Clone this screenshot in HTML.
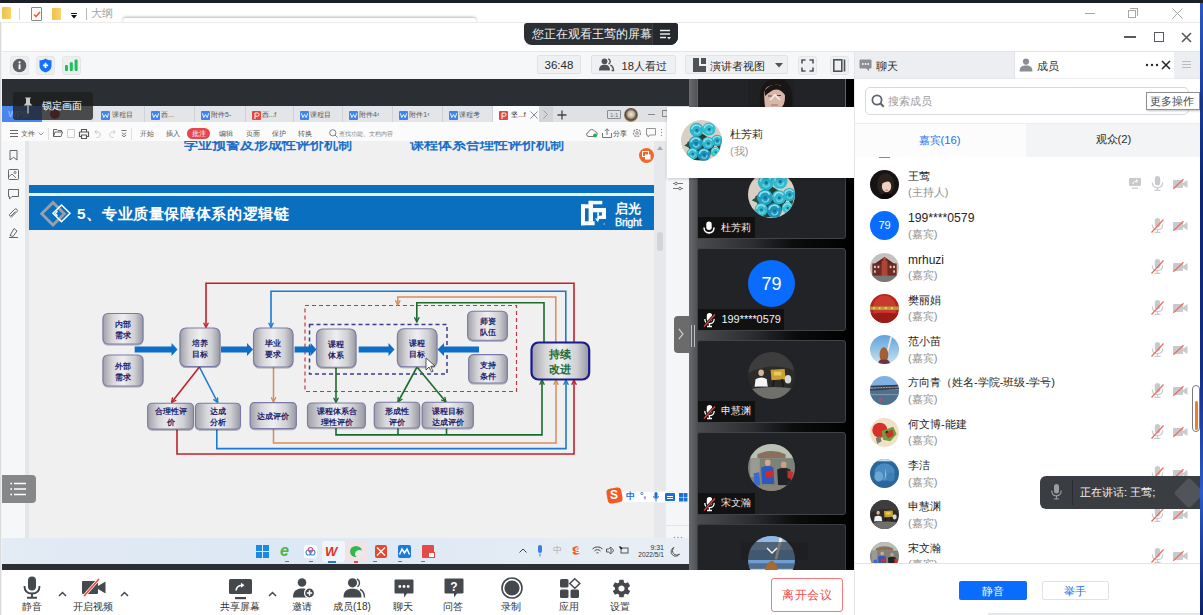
<!DOCTYPE html>
<html><head><meta charset="utf-8">
<style>
*{margin:0;padding:0;box-sizing:border-box}
html,body{width:1203px;height:615px;overflow:hidden;background:#fff;font-family:"Liberation Sans",sans-serif;position:relative}
.a{position:absolute}
.t{position:absolute;white-space:nowrap;line-height:1}
svg{overflow:visible}
</style></head><body>
<!-- ===== top dark strip + desktop edge ===== -->
<div class="a" style="left:0;top:0;width:1203px;height:3px;background:#1b1f27"></div>
<div class="a" style="left:1200px;top:3px;width:3px;height:612px;background:linear-gradient(#2a57c9,#0c2473 30%,#132c86 60%,#2a5ad0 80%,#0d1f6a)"></div>
<!-- ===== row 1 explorer strip ===== -->
<div class="a" style="left:0;top:3px;width:1200px;height:19px;background:#fff"></div>
<div class="a" style="left:2px;top:7px;width:9px;height:12px;background:linear-gradient(90deg,#f0c04a,#f7d36b);border-radius:1px"></div>
<div class="a" style="left:19px;top:8px;width:1px;height:12px;background:#d2d2d2"></div>
<div class="a" style="left:31px;top:7px;width:11px;height:14px;background:#fafafa;border:1px solid #8a8a8a;border-radius:1px"></div>
<svg class="a" style="left:33px;top:11px" width="8" height="7" viewBox="0 0 8 7"><path d="M1 3.5 L3 5.5 L7 1" stroke="#e8662a" stroke-width="1.6" fill="none"/></svg>
<div class="a" style="left:52px;top:8px;width:9px;height:12px;background:linear-gradient(90deg,#f0c04a,#f7d36b);border-radius:1px"></div>
<div class="a" style="left:71px;top:13px;width:6px;height:1px;background:#111"></div>
<svg class="a" style="left:71px;top:15px" width="6" height="4" viewBox="0 0 6 4"><path d="M0 0 L6 0 L3 3.5Z" fill="#111"/></svg>
<div class="a" style="left:86px;top:8px;width:1px;height:12px;background:#b8b8b8"></div>
<div class="t" style="left:91px;top:8px;font-size:11px;color:#a3a3a3">大纲</div>
<div class="a" style="left:123px;top:18px;width:353px;height:5px;background:#fff;border-radius:3px 3px 0 0;box-shadow:0 -1px 3px rgba(0,0,0,.3)"></div>
<div class="a" style="left:0;top:22px;width:1200px;height:1px;background:#ebebeb"></div>
<!-- row1 window controls -->
<div class="a" style="left:1085px;top:13px;width:10px;height:1px;background:#a8a8a8"></div>
<div class="a" style="left:1128px;top:10px;width:8px;height:8px;border:1px solid #a8a8a8;background:#fff"></div>
<div class="a" style="left:1130px;top:8px;width:8px;height:8px;border-top:1px solid #a8a8a8;border-right:1px solid #a8a8a8"></div>
<svg class="a" style="left:1172px;top:8px" width="11" height="11" viewBox="0 0 11 11"><path d="M0.5 0.5 L10.5 10.5 M10.5 0.5 L0.5 10.5" stroke="#a8a8a8" stroke-width="1"/></svg>

<!-- ===== title bar ===== -->
<div class="a" style="left:0;top:23px;width:1200px;height:28px;background:#fff"></div>
<div class="a" style="left:0;top:22px;width:1px;height:593px;background:#dadada"></div><div class="a" style="left:1px;top:22px;width:1px;height:593px;background:#f2f2f2"></div>
<div class="a" style="left:524px;top:23px;width:154px;height:22px;background:#2c3035;border-radius:3px 3px 8px 8px;overflow:hidden">
  <div class="a" style="left:128px;top:0;width:26px;height:22px;background:#25282c;border-left:1px solid #3c4046"></div>
</div>
<div class="t" style="left:531.5px;top:29px;font-size:11.5px;color:#eef0f2">您正在观看王莺的屏幕</div>
<svg class="a" style="left:659px;top:29px" width="13" height="11" viewBox="0 0 13 11"><path d="M1 1.5H11 M1 5H11 M1 8.5H7" stroke="#e8e8e8" stroke-width="1.4"/><path d="M8 8 L12 8 L10 10.5Z" fill="#e8e8e8"/></svg>
<!-- title window controls -->
<div class="a" style="left:1124px;top:36px;width:12px;height:2px;background:#555a60"></div>
<div class="a" style="left:1154px;top:32px;width:10px;height:10px;border:1.6px solid #555a60"></div>
<svg class="a" style="left:1181px;top:32px" width="11" height="11" viewBox="0 0 11 11"><path d="M1 1 L10 10 M10 1 L1 10" stroke="#555a60" stroke-width="1.6"/></svg>

<!-- ===== toolbar ===== -->
<div class="a" style="left:2px;top:51px;width:852px;height:28px;background:#f6f7f8;border-top:1px solid #e5e6e8"></div>
<div class="a" style="left:10px;top:56px;width:19px;height:19px;background:#eceef0;border:1px solid #e4e6e9;border-radius:3px"></div>
<div class="a" style="left:36px;top:56px;width:19px;height:19px;background:#eceef0;border:1px solid #e4e6e9;border-radius:3px"></div>
<div class="a" style="left:62px;top:56px;width:19px;height:19px;background:#eceef0;border:1px solid #e4e6e9;border-radius:3px"></div>
<svg class="a" style="left:12px;top:58px" width="15" height="15" viewBox="0 0 15 15"><circle cx="7.5" cy="7.5" r="6.8" fill="#5c5f64"/><rect x="6.6" y="6.3" width="1.9" height="5" fill="#fff"/><circle cx="7.55" cy="4.4" r="1.05" fill="#fff"/></svg>
<svg class="a" style="left:39px;top:58px" width="13" height="15" viewBox="0 0 13 15"><path d="M6.5 0.5 C8.5 2 10.5 2.3 12.5 2.3 L12.5 8 C12.5 11.5 9.5 13.5 6.5 14.5 C3.5 13.5 0.5 11.5 0.5 8 L0.5 2.3 C2.5 2.3 4.5 2 6.5 0.5Z" fill="#1570ff"/><path d="M6.5 4.8V10 M3.9 7.4H9.1" stroke="#fff" stroke-width="1.7"/></svg>
<svg class="a" style="left:64px;top:58px" width="15" height="15" viewBox="0 0 15 15"><rect x="1" y="7" width="3" height="6" rx="1" fill="#18c35a"/><rect x="5.8" y="4.3" width="3" height="8.7" rx="1" fill="#18c35a"/><rect x="10.6" y="1.5" width="3" height="11.5" rx="1" fill="#18c35a"/></svg>

<div class="a" style="left:537px;top:55px;width:44px;height:19px;background:#eef0f2;border:1px solid #e0e2e5;border-radius:2px"></div>
<div class="t" style="left:544.5px;top:59.5px;font-size:11.5px;color:#2b2b2b">36:48</div>
<div class="a" style="left:591px;top:55px;width:85px;height:19px;background:#eef0f2;border:1px solid #e0e2e5;border-radius:2px"></div>
<svg class="a" style="left:599px;top:58px" width="15" height="13" viewBox="0 0 15 13"><circle cx="5.5" cy="3.3" r="2.9" fill="#4f5358"/><path d="M0 12.5 C0 8 2.5 6.8 5.5 6.8 C8.5 6.8 11 8 11 12.5Z" fill="#4f5358"/><path d="M9.2 0.8 A2.8 2.8 0 0 1 9.6 6 M11.3 7.2 C13 7.8 14.5 9 14.5 12.5 L12.6 12.5" stroke="#4f5358" stroke-width="1.4" fill="none"/></svg>
<div class="t" style="left:621.5px;top:60.5px;font-size:11.2px;color:#2b2b2b">18人看过</div>
<div class="a" style="left:685px;top:55px;width:103px;height:19px;background:#eef0f2;border:1px solid #e0e2e5;border-radius:2px"></div>
<svg class="a" style="left:693px;top:58px" width="14" height="14" viewBox="0 0 14 14"><path d="M0 0H6V8H13V14H0Z" fill="#4f5358"/><rect x="8" y="0" width="5" height="6" fill="#4f5358"/></svg>
<div class="t" style="left:709.5px;top:60.5px;font-size:11.1px;color:#2b2b2b">演讲者视图</div>
<svg class="a" style="left:775px;top:63px" width="8" height="5" viewBox="0 0 8 5"><path d="M0 0H8L4 4.5Z" fill="#4f5358"/></svg>
<div class="a" style="left:798px;top:56px;width:19px;height:19px;background:#eef0f2;border:1px solid #e3e5e8;border-radius:3px"></div>
<svg class="a" style="left:801px;top:59px" width="13" height="13" viewBox="0 0 13 13"><path d="M1 4.5V1H4.5 M8.5 1H12V4.5 M12 8.5V12H8.5 M4.5 12H1V8.5" stroke="#4f5358" stroke-width="1.6" fill="none"/></svg>
<div class="a" style="left:830px;top:56px;width:19px;height:19px;background:#eef0f2;border:1px solid #e3e5e8;border-radius:3px"></div>
<svg class="a" style="left:833px;top:59px" width="13" height="13" viewBox="0 0 13 13"><rect x="0.8" y="0.8" width="8" height="11.4" stroke="#4f5358" stroke-width="1.6" fill="none"/><path d="M11.5 0.5V12.5" stroke="#4f5358" stroke-width="1.6"/></svg>

<!-- ===== main dark ===== -->
<div class="a" style="left:2px;top:79px;width:852px;height:491px;background:#2b2e32"></div>
<!-- video strip -->
<div class="a" style="left:689px;top:79px;width:8px;height:491px;background:linear-gradient(90deg,#686a6e,#505256)"></div>
<div class="a" style="left:697px;top:79px;width:157px;height:491px;background:linear-gradient(90deg,#4a4c50 0,#2c2d30 35%,#0c0c0d 62%,#000 100%)"></div>
<!-- splitter lines -->
<div class="a" style="left:691px;top:325px;width:1px;height:22px;background:#b9bcc0"></div>
<div class="a" style="left:694px;top:325px;width:1px;height:22px;background:#b9bcc0"></div>
<!-- tiles -->
<div class="a" style="left:697px;top:64px;width:149px;height:83px;background:#222326;border:1.5px solid #1d8c4c;border-top:none;clip-path:inset(15px 0 0 0)"></div>
<div class="a" style="left:697px;top:156px;width:149px;height:83px;background:#222326;border:1px solid #414347;border-radius:3px"></div>
<div class="a" style="left:697px;top:248px;width:149px;height:83px;background:#222326;border:1px solid #414347;border-radius:3px"></div>
<div class="a" style="left:697px;top:340px;width:149px;height:83px;background:#222326;border:1px solid #414347;border-radius:3px"></div>
<div class="a" style="left:697px;top:432px;width:149px;height:83px;background:#222326;border:1px solid #414347;border-radius:3px"></div>
<div class="a" style="left:697px;top:524px;width:149px;height:46px;background:#222326;border:1px solid #3a3c40;border-bottom:none;border-radius:3px 3px 0 0"></div>
<!-- tile 0: host video -->
<svg class="a" style="left:740px;top:79px;overflow:hidden" width="70" height="28" viewBox="740 79 70 28"><rect x="740" y="79" width="70" height="28" fill="#222326"/><rect x="748" y="79" width="46" height="28" fill="#1f2022"/><path d="M760 107 Q758 84 770 80 Q778 77 786 81 Q794 88 792 107Z" fill="#1a1616"/><path d="M765 107 Q763 92 766 88 Q772 84 780 85 Q785 88 785 96 Q785 104 782 107Z" fill="#d8b6a8"/><path d="M765 90 Q772 82 782 86 Q786 90 785 95 Q778 86 770 92 Q767 94 765 96Z" fill="#1a1616"/><path d="M768 96 H772 M777 95.5 H781" stroke="#5a4440" stroke-width="1"/><path d="M771 105 H778" stroke="#b07a78" stroke-width="1.2"/></svg>
<svg class="a" style="left:769px;top:93px" width="12" height="8" viewBox="0 0 12 8"><path d="M1 7L6 2L11 7" stroke="#f2efe8" stroke-width="1.6" fill="none"/></svg>
<!-- tile avatars -->
<div class="a" style="left:748px;top:260px;width:47px;height:47px;border-radius:50%;background:#0a6cff"></div>
<div class="t" style="left:748px;top:275px;width:47px;text-align:center;font-size:18px;color:#fff">79</div>
<!-- name labels -->
<div class="a" style="left:698px;top:217px;width:57px;height:21px;background:#111112"></div>
<svg class="a" style="left:703px;top:220.5px" width="12" height="14" viewBox="0 0 12 14"><rect x="3.3" y="0.5" width="5.4" height="8.5" rx="2.7" fill="#fff"/><path d="M1 6.5C1 10 3.2 11.8 6 11.8C8.8 11.8 11 10 11 6.5" stroke="#fff" stroke-width="1.5" fill="none"/><path d="M4.8 11.6L6 13.3L7.2 11.6Z" fill="#fff"/></svg>
<div class="t" style="left:720.5px;top:223px;font-size:10.2px;color:#f2f2f2">杜芳莉</div>
<div class="a" style="left:698px;top:309px;width:86px;height:21px;background:#111112"></div>
<div class="t" style="left:721.5px;top:313.5px;font-size:10.9px;color:#f2f2f2">199****0579</div>
<div class="a" style="left:698px;top:401px;width:57px;height:21px;background:#111112"></div>
<div class="t" style="left:720.5px;top:406px;font-size:10.2px;color:#f2f2f2">申慧渊</div>
<div class="a" style="left:698px;top:493px;width:57px;height:21px;background:#111112"></div>
<div class="t" style="left:720.5px;top:498px;font-size:10.2px;color:#f2f2f2">宋文瀚</div>

<svg class="a" style="left:703px;top:313px" width="13" height="14" viewBox="0 0 13 14"><rect x="3.8" y="0" width="5.4" height="8.5" rx="2.7" fill="#fff"/><path d="M1.8 6C1.8 9 3.8 10.6 6.5 10.6C9.2 10.6 11.2 9 11.2 6" stroke="#fff" stroke-width="1.3" fill="none"/><path d="M6.5 10.6V13.5M4 13.5H9" stroke="#fff" stroke-width="1.3"/><path d="M1 13.5L12 1.5" stroke="#111112" stroke-width="2.6"/><path d="M1 13.5L12 1.5" stroke="#f0473c" stroke-width="1.2"/></svg>
<svg class="a" style="left:703px;top:405px" width="13" height="14" viewBox="0 0 13 14"><rect x="3.8" y="0" width="5.4" height="8.5" rx="2.7" fill="#fff"/><path d="M1.8 6C1.8 9 3.8 10.6 6.5 10.6C9.2 10.6 11.2 9 11.2 6" stroke="#fff" stroke-width="1.3" fill="none"/><path d="M6.5 10.6V13.5M4 13.5H9" stroke="#fff" stroke-width="1.3"/><path d="M1 13.5L12 1.5" stroke="#111112" stroke-width="2.6"/><path d="M1 13.5L12 1.5" stroke="#f0473c" stroke-width="1.2"/></svg>
<svg class="a" style="left:703px;top:497px" width="13" height="14" viewBox="0 0 13 14"><rect x="3.8" y="0" width="5.4" height="8.5" rx="2.7" fill="#fff"/><path d="M1.8 6C1.8 9 3.8 10.6 6.5 10.6C9.2 10.6 11.2 9 11.2 6" stroke="#fff" stroke-width="1.3" fill="none"/><path d="M6.5 10.6V13.5M4 13.5H9" stroke="#fff" stroke-width="1.3"/><path d="M1 13.5L12 1.5" stroke="#111112" stroke-width="2.6"/><path d="M1 13.5L12 1.5" stroke="#f0473c" stroke-width="1.2"/></svg>
<svg class="a" style="left:748px;top:171px" width="47" height="47" viewBox="0 0 100 100"><defs><clipPath id="ct1"><circle cx="50" cy="50" r="50"/></clipPath></defs><g clip-path="url(#ct1)"><rect width="100" height="100" fill="#d9cfc4"/>
<path d="M15 55 L50 32 L85 55 L65 98 L30 98Z" fill="#1c4232"/>
<path d="M8 62 L26 50 L28 72Z M86 62 L98 55 L94 74Z" fill="#25533e"/>
<circle cx="38" cy="24" r="17" fill="#2cb4cb"/><path d="M26.1 22.3 A11.9 11.9 0 0 1 48.2 18.1" stroke="#8fe3ec" stroke-width="3.7" fill="none"/><path d="M32.0 28.2 A6.8 6.8 0 0 0 45.6 25.7" stroke="#6fd2e0" stroke-width="3.1" fill="none"/><circle cx="38.9" cy="24.9" r="3.7" fill="#137896"/><circle cx="68" cy="22" r="16" fill="#33bccf"/><path d="M56.8 20.4 A11.2 11.2 0 0 1 77.6 16.4" stroke="#8fe3ec" stroke-width="3.5" fill="none"/><path d="M62.4 26.0 A6.4 6.4 0 0 0 75.2 23.6" stroke="#6fd2e0" stroke-width="2.9" fill="none"/><circle cx="68.8" cy="22.8" r="3.5" fill="#137896"/><circle cx="88" cy="50" r="14" fill="#2aaac6"/><path d="M78.2 48.6 A9.8 9.8 0 0 1 96.4 45.1" stroke="#8fe3ec" stroke-width="3.1" fill="none"/><path d="M83.1 53.5 A5.6 5.6 0 0 0 94.3 51.4" stroke="#6fd2e0" stroke-width="2.5" fill="none"/><circle cx="88.7" cy="50.7" r="3.1" fill="#137896"/><circle cx="36" cy="56" r="17" fill="#1f9cc2"/><path d="M24.1 54.3 A11.9 11.9 0 0 1 46.2 50.0" stroke="#8fe3ec" stroke-width="3.7" fill="none"/><path d="M30.1 60.2 A6.8 6.8 0 0 0 43.6 57.7" stroke="#6fd2e0" stroke-width="3.1" fill="none"/><circle cx="36.9" cy="56.9" r="3.7" fill="#137896"/><circle cx="66" cy="56" r="15" fill="#2fb6cc"/><path d="M55.5 54.5 A10.5 10.5 0 0 1 75.0 50.8" stroke="#8fe3ec" stroke-width="3.3" fill="none"/><path d="M60.8 59.8 A6.0 6.0 0 0 0 72.8 57.5" stroke="#6fd2e0" stroke-width="2.7" fill="none"/><circle cx="66.8" cy="56.8" r="3.3" fill="#137896"/><circle cx="28" cy="82" r="14" fill="#33b8cc"/><path d="M18.2 80.6 A9.8 9.8 0 0 1 36.4 77.1" stroke="#8fe3ec" stroke-width="3.1" fill="none"/><path d="M23.1 85.5 A5.6 5.6 0 0 0 34.3 83.4" stroke="#6fd2e0" stroke-width="2.5" fill="none"/><circle cx="28.7" cy="82.7" r="3.1" fill="#137896"/><circle cx="56" cy="84" r="16" fill="#2092bb"/><path d="M44.8 82.4 A11.2 11.2 0 0 1 65.6 78.4" stroke="#8fe3ec" stroke-width="3.5" fill="none"/><path d="M50.4 88.0 A6.4 6.4 0 0 0 63.2 85.6" stroke="#6fd2e0" stroke-width="2.9" fill="none"/><circle cx="56.8" cy="84.8" r="3.5" fill="#137896"/><circle cx="84" cy="78" r="12" fill="#3ac3d3"/><path d="M75.6 76.8 A8.4 8.4 0 0 1 91.2 73.8" stroke="#8fe3ec" stroke-width="2.6" fill="none"/><path d="M79.8 81.0 A4.8 4.8 0 0 0 89.4 79.2" stroke="#6fd2e0" stroke-width="2.2" fill="none"/><circle cx="84.6" cy="78.6" r="2.6" fill="#137896"/></g></svg>
<svg class="a" style="left:748px;top:352px" width="47" height="47" viewBox="0 0 100 100"><defs><clipPath id="ct3"><circle cx="50" cy="50" r="50"/></clipPath></defs><g clip-path="url(#ct3)"><rect width="100" height="100" fill="#2c2b2a"/>
<path d="M0 0 H100 V40 Q50 20 0 45Z" fill="#3d3d3e"/>
<path d="M48 38 L78 36 L80 58 L50 60Z" fill="#c9a12e"/>
<rect x="55" y="42" width="16" height="8" fill="#e8cc5a"/>
<path d="M55 60 L52 80 M72 58 L76 80" stroke="#1a1a1a" stroke-width="4"/>
<ellipse cx="28" cy="44" rx="6" ry="7" fill="#d8b49a"/>
<path d="M16 58 Q28 50 40 58 L42 74 L14 74Z" fill="#f4f4f4"/>
<path d="M18 74 L40 74 L44 90 L16 90Z" fill="#2a2a30"/>
<path d="M0 80 Q50 70 100 78 V100 H0Z" fill="#6f6f6c"/>
<ellipse cx="85" cy="58" rx="7" ry="9" fill="#d8d8d8"/></g></svg>
<svg class="a" style="left:748px;top:444px" width="47" height="47" viewBox="0 0 100 100"><defs><clipPath id="ct4"><circle cx="50" cy="50" r="50"/></clipPath></defs><g clip-path="url(#ct4)"><rect width="100" height="100" fill="#7d8278"/>
<rect x="0" y="0" width="100" height="30" fill="#b9c0b4"/>
<path d="M20 22 Q50 8 80 22 L80 30 L20 30Z" fill="#8a6e5e"/>
<rect x="5" y="30" width="20" height="40" fill="#9a9a92"/>
<ellipse cx="42" cy="40" rx="6" ry="7" fill="#d4a888"/>
<path d="M28 50 Q42 44 54 50 L56 85 L30 85Z" fill="#2a5ac0"/>
<path d="M38 58 L54 56 L52 70 L36 70Z" fill="#d02a2a"/>
<ellipse cx="76" cy="44" rx="6" ry="7" fill="#c9a088"/>
<path d="M62 54 Q76 48 90 54 L92 88 L64 88Z" fill="#222226"/>
<path d="M84 56 L96 60 L94 76 L84 72Z" fill="#c33030"/>
<path d="M12 62 L24 60 L26 95 L14 95Z" fill="#3a6ad0"/>
<rect x="0" y="88" width="100" height="12" fill="#8a857a"/></g></svg>
<div class="a" style="left:748px;top:536px;width:47px;height:34px;overflow:hidden"><svg style="position:absolute;left:0;top:0" width="47" height="47" viewBox="0 0 100 100"><defs><clipPath id="ct5"><circle cx="50" cy="50" r="50"/></clipPath></defs><g clip-path="url(#ct5)"><rect width="100" height="100" fill="#6f9fd2"/>
<rect x="0" y="0" width="100" height="30" fill="#8fb8e4"/>
<rect x="0" y="58" width="100" height="14" fill="#4e6f92"/>
<rect x="0" y="70" width="100" height="30" fill="#a9d6e2"/>
<path d="M68 0 L74 2 L62 50 L57 49Z" fill="#f4ead0"/>
<path d="M35 100 Q32 60 50 52 Q66 56 66 100Z" fill="#a8692e"/>
<ellipse cx="46" cy="96" rx="10" ry="6" fill="#f0ece4"/></g></svg></div>
<div class="a" style="left:741px;top:542px;width:67px;height:18px;background:rgba(30,30,30,.55);border-radius:3px"></div>
<svg class="a" style="left:766px;top:547px" width="12" height="8" viewBox="0 0 12 8"><path d="M1 1L6 6L11 1" stroke="#f2f2f2" stroke-width="1.5" fill="none"/></svg>
<!-- ===== WPS shared screen ===== -->
<div class="a" style="left:2px;top:106px;width:687px;height:458px;background:#f0f0f0;overflow:hidden">
</div>
<!-- tab bar -->
<div class="a" style="left:2px;top:106px;width:687px;height:16px;background:#dfe1e5"></div>
<div class="a" style="left:2px;top:106px;width:40px;height:16px;background:#4a86ee"></div>
<div class="t" style="left:8px;top:110px;font-size:9px;color:#a9c4f5">WPS</div>
<div class="a" style="left:42px;top:106px;width:48px;height:16px;background:#e4e6ea"></div>
<div class="a" style="left:50px;top:109px;width:10px;height:10px;border-radius:50%;background:#c92b2b"></div>

<div class="a" style="left:95px;top:106px;width:50px;height:16px;background:#e3e5e9;border-right:1px solid #d0d2d6"></div>
<div class="a" style="left:101px;top:110.5px;width:9px;height:9px;background:#3d86f0;border-radius:1px"></div>
<svg class="a" style="left:102px;top:112.5px" width="7" height="5" viewBox="0 0 7 5"><path d="M0.3 0.3L1.8 4.5L3.5 1.5L5.2 4.5L6.7 0.3" stroke="#fff" stroke-width="0.9" fill="none"/></svg>
<div class="t" style="left:112px;top:111px;font-size:7px;color:#5a5c60">课程目</div>
<div class="a" style="left:145px;top:106px;width:50px;height:16px;background:#e3e5e9;border-right:1px solid #d0d2d6"></div>
<div class="a" style="left:151px;top:110.5px;width:9px;height:9px;background:#3d86f0;border-radius:1px"></div>
<svg class="a" style="left:152px;top:112.5px" width="7" height="5" viewBox="0 0 7 5"><path d="M0.3 0.3L1.8 4.5L3.5 1.5L5.2 4.5L6.7 0.3" stroke="#fff" stroke-width="0.9" fill="none"/></svg>
<div class="t" style="left:161px;top:111px;font-size:7px;color:#5a5c60">西...</div>
<div class="a" style="left:195px;top:106px;width:50.5px;height:16px;background:#e3e5e9;border-right:1px solid #d0d2d6"></div>
<div class="a" style="left:201px;top:110.5px;width:9px;height:9px;background:#3d86f0;border-radius:1px"></div>
<svg class="a" style="left:202px;top:112.5px" width="7" height="5" viewBox="0 0 7 5"><path d="M0.3 0.3L1.8 4.5L3.5 1.5L5.2 4.5L6.7 0.3" stroke="#fff" stroke-width="0.9" fill="none"/></svg>
<div class="t" style="left:211px;top:111px;font-size:7px;color:#5a5c60">附件5-</div>
<div class="a" style="left:245.5px;top:106px;width:48.2px;height:16px;background:#e3e5e9;border-right:1px solid #d0d2d6"></div>
<div class="a" style="left:251.5px;top:110.5px;width:9px;height:9px;background:#e5483f;border-radius:1px"></div>
<svg class="a" style="left:253.5px;top:111.5px" width="6" height="7" viewBox="0 0 6 7"><path d="M1 7V1H3.5A1.6 1.6 0 0 1 3.5 4.2H1" stroke="#fff" stroke-width="1" fill="none"/></svg>
<div class="t" style="left:261.5px;top:111px;font-size:7px;color:#5a5c60">西...f</div>
<div class="a" style="left:293.7px;top:106px;width:49.3px;height:16px;background:#e3e5e9;border-right:1px solid #d0d2d6"></div>
<div class="a" style="left:299.7px;top:110.5px;width:9px;height:9px;background:#3d86f0;border-radius:1px"></div>
<svg class="a" style="left:300.7px;top:112.5px" width="7" height="5" viewBox="0 0 7 5"><path d="M0.3 0.3L1.8 4.5L3.5 1.5L5.2 4.5L6.7 0.3" stroke="#fff" stroke-width="0.9" fill="none"/></svg>
<div class="t" style="left:309.7px;top:111px;font-size:7px;color:#5a5c60">课程目</div>
<div class="a" style="left:343px;top:106px;width:50.3px;height:16px;background:#e3e5e9;border-right:1px solid #d0d2d6"></div>
<div class="a" style="left:349px;top:110.5px;width:9px;height:9px;background:#3d86f0;border-radius:1px"></div>
<svg class="a" style="left:350px;top:112.5px" width="7" height="5" viewBox="0 0 7 5"><path d="M0.3 0.3L1.8 4.5L3.5 1.5L5.2 4.5L6.7 0.3" stroke="#fff" stroke-width="0.9" fill="none"/></svg>
<div class="t" style="left:359px;top:111px;font-size:7px;color:#5a5c60">附件4‹</div>
<div class="a" style="left:393.3px;top:106px;width:49.4px;height:16px;background:#e3e5e9;border-right:1px solid #d0d2d6"></div>
<div class="a" style="left:399.3px;top:110.5px;width:9px;height:9px;background:#3d86f0;border-radius:1px"></div>
<svg class="a" style="left:400.3px;top:112.5px" width="7" height="5" viewBox="0 0 7 5"><path d="M0.3 0.3L1.8 4.5L3.5 1.5L5.2 4.5L6.7 0.3" stroke="#fff" stroke-width="0.9" fill="none"/></svg>
<div class="t" style="left:409.3px;top:111px;font-size:7px;color:#5a5c60">附件1‹</div>
<div class="a" style="left:442.7px;top:106px;width:50.3px;height:16px;background:#e3e5e9;border-right:1px solid #d0d2d6"></div>
<div class="a" style="left:448.7px;top:110.5px;width:9px;height:9px;background:#3d86f0;border-radius:1px"></div>
<svg class="a" style="left:449.7px;top:112.5px" width="7" height="5" viewBox="0 0 7 5"><path d="M0.3 0.3L1.8 4.5L3.5 1.5L5.2 4.5L6.7 0.3" stroke="#fff" stroke-width="0.9" fill="none"/></svg>
<div class="t" style="left:458.7px;top:111px;font-size:7px;color:#5a5c60">课程考</div>
<div class="a" style="left:493px;top:106px;width:46px;height:16px;background:#fafbfc"></div>
<div class="a" style="left:499px;top:110.5px;width:9px;height:9px;background:#e5483f;border-radius:1px"></div>
<svg class="a" style="left:501px;top:111.5px" width="6" height="7" viewBox="0 0 6 7"><path d="M1 7V1H3.5A1.6 1.6 0 0 1 3.5 4.2H1" stroke="#fff" stroke-width="1" fill="none"/></svg>
<div class="t" style="left:511px;top:111px;font-size:7px;color:#333">坚...f</div>
<svg class="a" style="left:530px;top:111px" width="8" height="8" viewBox="0 0 8 8"><path d="M0.5 0.5L7.5 7.5M7.5 0.5L0.5 7.5" stroke="#8a8c90" stroke-width="1"/></svg>
<div class="a" style="left:539px;top:106px;width:14px;height:16px;background:#d3d5d9"></div>
<svg class="a" style="left:543px;top:110px" width="5" height="9" viewBox="0 0 5 9"><path d="M0.5 0.5L4.5 4.5L0.5 8.5" stroke="#9a9ca0" stroke-width="1" fill="none"/></svg>
<svg class="a" style="left:557px;top:110px" width="10" height="10" viewBox="0 0 10 10"><path d="M5 0.5V9.5M0.5 5H9.5" stroke="#444" stroke-width="1.3"/></svg>
<div class="a" style="left:607px;top:110px;width:14px;height:9px;border:1px solid #8a8c90;border-radius:1px"></div>
<div class="t" style="left:610px;top:111.5px;font-size:6px;color:#777">1:1</div>
<div class="a" style="left:624px;top:107.5px;width:14px;height:14px;border-radius:50%;background:radial-gradient(circle at 50% 45%,#f2e6da 0,#c9b59e 30%,#4a4540 55%,#d9a857 75%)"></div>
<div class="a" style="left:648px;top:114px;width:7px;height:1px;background:#888"></div>
<div class="a" style="left:662px;top:110px;width:6px;height:7px;border:1px solid #888"></div>
<!-- wps toolbar -->
<div class="a" style="left:2px;top:122px;width:687px;height:20px;background:#fbfbfc;border-bottom:1px solid #ebebed"></div>
<svg class="a" style="left:10px;top:129.5px" width="8" height="7" viewBox="0 0 8 7"><path d="M0 0.5H8M0 3.5H8M0 6.5H8" stroke="#666" stroke-width="1"/></svg>
<div class="t" style="left:21px;top:130.5px;font-size:6.8px;color:#555">文件</div>
<svg class="a" style="left:38px;top:131.5px" width="6" height="4" viewBox="0 0 6 4"><path d="M0.5 0.5L3 3L5.5 0.5" stroke="#888" stroke-width="0.9" fill="none"/></svg>
<div class="a" style="left:48px;top:127.5px;width:1px;height:12px;background:#e0e0e0"></div>
<svg class="a" style="left:53px;top:128.5px" width="10" height="8" viewBox="0 0 10 8"><path d="M0.5 7.5V0.5H4L5 1.5H8.5V3 M0.5 7.5L2 3H9.5L8 7.5Z" stroke="#555" stroke-width="0.9" fill="none"/></svg>
<div class="a" style="left:67px;top:128.5px;width:8px;height:9px;border:1px solid #ccc;border-radius:1px"></div>
<svg class="a" style="left:79px;top:128.5px" width="10" height="10" viewBox="0 0 10 10"><path d="M2.5 3V0.5H7.5V3 M0.5 3H9.5V7.5H7.5 M2.5 7.5H0.5V3 M2.5 6H7.5V9.5H2.5Z" stroke="#555" stroke-width="1.1" fill="none"/></svg>
<svg class="a" style="left:94px;top:129px" width="8" height="9" viewBox="0 0 8 9"><path d="M2.5 1L0.8 3L2.8 4.8 M1 3H4.5A3 3 0 0 1 4.5 8.5H2.5" stroke="#c2c2c2" stroke-width="0.9" fill="none"/></svg>
<svg class="a" style="left:108px;top:129px" width="8" height="9" viewBox="0 0 8 9"><path d="M5.5 1L7.2 3L5.2 4.8 M7 3H3.5A3 3 0 0 0 3.5 8.5H5.5" stroke="#cacaca" stroke-width="0.9" fill="none"/></svg>
<svg class="a" style="left:121px;top:130px" width="6" height="7" viewBox="0 0 6 7"><path d="M0.5 0.5H5.5 M0.8 2.5L3 4.5L5.2 2.5 M0.8 5L3 6.8L5.2 5" stroke="#666" stroke-width="0.9" fill="none"/></svg>
<div class="a" style="left:131px;top:127.5px;width:1px;height:12px;background:#e0e0e0"></div>
<div class="t" style="left:140px;top:130.5px;font-size:6.8px;color:#555">开始</div>
<div class="t" style="left:166px;top:130.5px;font-size:6.8px;color:#555">插入</div>
<div class="a" style="left:187px;top:127.5px;width:23px;height:11px;background:#e5474b;border-radius:6px"></div>
<div class="t" style="left:192px;top:130.5px;font-size:6.8px;color:#fff">批注</div>
<div class="t" style="left:219px;top:130.5px;font-size:6.8px;color:#555">编辑</div>
<div class="t" style="left:246px;top:130.5px;font-size:6.8px;color:#555">页面</div>
<div class="t" style="left:272px;top:130.5px;font-size:6.8px;color:#555">保护</div>
<div class="t" style="left:298px;top:130.5px;font-size:6.8px;color:#555">转换</div>
<svg class="a" style="left:329px;top:128.5px" width="9" height="9" viewBox="0 0 9 9"><circle cx="3.8" cy="3.8" r="3.1" stroke="#777" stroke-width="0.9" fill="none"/><path d="M6 6L8.6 8.6" stroke="#777" stroke-width="0.9"/></svg>
<div class="t" style="left:339px;top:130.5px;font-size:6.4px;color:#888">查找功能、文档内容</div>
<svg class="a" style="left:586px;top:127.5px" width="12" height="10" viewBox="0 0 12 10"><path d="M3 8.5H8.5A2.5 2.5 0 0 0 8.8 3.5A3.3 3.3 0 0 0 2.5 4.3A2.1 2.1 0 0 0 3 8.5Z" stroke="#666" stroke-width="0.9" fill="none"/><circle cx="9" cy="7.5" r="2" fill="#22b14c"/></svg>
<svg class="a" style="left:602px;top:127.5px" width="10" height="10" viewBox="0 0 10 10"><path d="M0.5 5V9.5H9.5V5 M5 7V0.8 M2.8 3L5 0.8L7.2 3" stroke="#666" stroke-width="0.9" fill="none"/></svg>
<div class="t" style="left:613px;top:130.5px;font-size:6.7px;color:#555">分享</div>
<svg class="a" style="left:632px;top:127.5px" width="10" height="10" viewBox="0 0 10 10"><circle cx="5" cy="5" r="3.5" stroke="#888" stroke-width="1.2" fill="none" stroke-dasharray="2 1"/><circle cx="5" cy="5" r="1.3" stroke="#888" stroke-width="0.9" fill="none"/></svg>
<svg class="a" style="left:646px;top:127.5px" width="10" height="10" viewBox="0 0 10 10"><path d="M0.5 0.5H9.5V7H4L2 9V7H0.5Z" stroke="#888" stroke-width="0.9" fill="none"/></svg>
<div class="a" style="left:661px;top:128.5px;width:1px;height:1px;background:#888;box-shadow:0 3px #888,0 6px #888"></div>
<!-- left sidebar -->
<div class="a" style="left:2px;top:141px;width:23px;height:397px;background:#f6f7f9"></div>
<div class="a" style="left:25px;top:141px;width:4px;height:397px;background:#e4e5e8"></div>
<svg class="a" style="left:9px;top:150px" width="9" height="11" viewBox="0 0 9 11"><path d="M1 0.5H8V10L4.5 7.3L1 10Z" stroke="#555" stroke-width="0.9" fill="none"/></svg>
<svg class="a" style="left:8px;top:169px" width="11" height="11" viewBox="0 0 11 11"><rect x="0.5" y="0.5" width="10" height="10" rx="1" stroke="#555" stroke-width="0.9" fill="none"/><path d="M0.5 8L4 5L8 9 M7 2.5A1 1 0 1 0 7 4.5A1 1 0 1 0 7 2.5" stroke="#555" stroke-width="0.8" fill="none"/></svg>
<svg class="a" style="left:8px;top:189px" width="11" height="11" viewBox="0 0 11 11"><path d="M0.5 0.5H10.5V7.5H4L1.5 10V7.5H0.5Z" stroke="#555" stroke-width="0.9" fill="none"/></svg>
<svg class="a" style="left:8px;top:208px" width="11" height="10" viewBox="0 0 11 10"><path d="M3 9.5L9 3.5A1.6 1.6 0 0 0 6.8 1.2L1.5 6.5A1.1 1.1 0 0 0 3 8L7.5 3.5" stroke="#555" stroke-width="0.9" fill="none"/></svg>
<svg class="a" style="left:8px;top:227px" width="11" height="11" viewBox="0 0 11 11"><path d="M1 10.5H10 M2 8.5L6 1.5L9 4L5 9.5Z" stroke="#555" stroke-width="0.9" fill="none"/></svg>
<!-- scrollbar + right panel -->
<div class="a" style="left:654px;top:141px;width:12px;height:397px;background:#e7e8eb"></div>
<svg class="a" style="left:657px;top:146px" width="6" height="4" viewBox="0 0 6 4"><path d="M0 4L3 0L6 4Z" fill="#aaa"/></svg>
<div class="a" style="left:657px;top:232px;width:6px;height:19px;background:#d3d4d7;border-radius:3px"></div>
<div class="a" style="left:666px;top:141px;width:23px;height:397px;background:#f5f6f8"></div>
<div class="a" style="left:666px;top:525px;width:23px;height:1px;background:#e3e4e7"></div>
<svg class="a" style="left:673px;top:536px" width="10" height="3" viewBox="0 0 10 3"><circle cx="1.5" cy="1.5" r="0.8" fill="#999"/><circle cx="5" cy="1.5" r="0.8" fill="#999"/><circle cx="8.5" cy="1.5" r="0.8" fill="#999"/></svg>
<svg class="a" style="left:672px;top:180px" width="12" height="12" viewBox="0 0 12 12"><path d="M1 3.5H11 M1 8.5H11" stroke="#666" stroke-width="0.9"/><circle cx="4" cy="3.5" r="1.3" fill="#f5f6f8" stroke="#666" stroke-width="0.9"/><circle cx="8" cy="8.5" r="1.3" fill="#f5f6f8" stroke="#666" stroke-width="0.9"/></svg>
<!-- expander -->
<div class="a" style="left:674px;top:316px;width:15px;height:37px;background:#6b6b6b;border-radius:4px 0 0 4px"></div>
<svg class="a" style="left:678px;top:328px" width="6" height="12" viewBox="0 0 6 12"><path d="M0.8 0.8L5 6L0.8 11.2" stroke="#c9c9c9" stroke-width="1.2" fill="none"/></svg>

<!-- slide -->
<div class="a" style="left:29px;top:141px;width:625px;height:397px;background:#f0f0f0;overflow:hidden">
  <div class="t" style="left:155px;top:-3px;font-size:13.9px;font-weight:bold;color:#1a6fc9">学业预警及形成性评价机制</div>
  <div class="t" style="left:381px;top:-3px;font-size:13.9px;font-weight:bold;color:#1a6fc9">课程体系合理性评价机制</div>
  <div class="a" style="left:0;top:44px;width:625px;height:8px;background:#0b6fc0"></div>
  <div class="a" style="left:0;top:55px;width:625px;height:34px;background:#0b6fc0"></div>
  <div class="t" style="left:48px;top:65px;letter-spacing:0.65px;font-size:15.4px;font-weight:bold;color:#fff">5、专业质量保障体系的逻辑链</div>
</div>
<svg class="a" style="left:36px;top:198px" width="40" height="32" viewBox="36 198 40 32"><path d="M53 202.5 L64.3 213.7 L53 225 L41.7 213.7Z" stroke="#9aa0a8" stroke-width="2.8" fill="none"/><path d="M61.5 205 L70 213.3 L61.5 221.6 L53 213.3Z" stroke="#fff" stroke-width="1.5" fill="none"/><path d="M57.5 211 L55.3 213.5 L57.5 216" stroke="#fff" stroke-width="1.2" fill="none"/></svg>
<svg class="a" style="left:575px;top:195px" width="80" height="37" viewBox="0 0 1203 556"><g fill="#fff"><rect x="90" y="140" width="60" height="315"/><rect x="90" y="395" width="205" height="60"/><rect x="90" y="140" width="135" height="60"/><rect x="205" y="88" width="205" height="52"/><rect x="205" y="88" width="65" height="312"/><rect x="270" y="195" width="195" height="65"/><rect x="405" y="195" width="60" height="165"/><rect x="335" y="310" width="130" height="50"/><rect x="335" y="260" width="25" height="50"/><path d="M300 355 L365 355 L345 410Z"/></g><circle cx="440" cy="435" r="12" fill="#9ec4ea"/></svg>
<div class="t" style="left:614.5px;top:202px;font-size:13.2px;font-weight:bold;color:#fff">启光</div>
<div class="t" style="left:615px;top:216.5px;font-size:10.8px;letter-spacing:-0.3px;-webkit-text-stroke:0.3px #fff;color:#fff">Bright</div>
<div class="a" style="left:639px;top:148px;width:15px;height:15px;border-radius:50%;background:#f0692a"></div>
<svg class="a" style="left:642px;top:151px" width="9" height="9" viewBox="0 0 9 9"><rect x="0.5" y="0.5" width="6" height="5" stroke="#fff" stroke-width="1" fill="none"/><rect x="3" y="3.5" width="5.5" height="5" fill="#fff"/></svg>

<svg class="a" style="left:29px;top:141px" width="625" height="397" viewBox="29 141 625 397">
<defs><filter id="sh" x="-20%" y="-20%" width="140%" height="150%"><feDropShadow dx="0" dy="1" stdDeviation="0.7" flood-color="#000" flood-opacity="0.3"/></filter>
<linearGradient id="g" x1="0" y1="0" x2="1" y2="0"><stop offset="0" stop-color="#a0a0a8"/><stop offset="0.25" stop-color="#d8d8dc"/><stop offset="0.5" stop-color="#efeff1"/><stop offset="0.78" stop-color="#d0d0d5"/><stop offset="1" stop-color="#9898a2"/></linearGradient>
<marker id="mr" viewBox="0 0 10 10" refX="9" refY="5" markerWidth="6" markerHeight="6" markerUnits="userSpaceOnUse" orient="auto"><path d="M1 1L9 5L1 9" stroke="#c0222a" stroke-width="2.2" fill="none" stroke-linejoin="miter"/></marker>
<marker id="mb" viewBox="0 0 10 10" refX="9" refY="5" markerWidth="6" markerHeight="6" markerUnits="userSpaceOnUse" orient="auto"><path d="M1 1L9 5L1 9" stroke="#1a7ad0" stroke-width="2.2" fill="none" stroke-linejoin="miter"/></marker>
<marker id="mo" viewBox="0 0 10 10" refX="9" refY="5" markerWidth="6" markerHeight="6" markerUnits="userSpaceOnUse" orient="auto"><path d="M1 1L9 5L1 9" stroke="#d88c5c" stroke-width="2.2" fill="none" stroke-linejoin="miter"/></marker>
<marker id="mg" viewBox="0 0 10 10" refX="9" refY="5" markerWidth="6" markerHeight="6" markerUnits="userSpaceOnUse" orient="auto"><path d="M1 1L9 5L1 9" stroke="#1c6b2c" stroke-width="2.2" fill="none" stroke-linejoin="miter"/></marker>
</defs>
<!-- dashed frames -->
<rect x="305" y="305.5" width="211.5" height="86" fill="none" stroke="#c0384a" stroke-width="1.2" stroke-dasharray="4 3"/>
<rect x="309.5" y="324.5" width="137.5" height="49.5" fill="none" stroke="#3a3c8c" stroke-width="1.5" stroke-dasharray="4 3"/>
<!-- top feedback lines -->
<path d="M574 342 V283.3 H206 V327.5" stroke="#c0222a" stroke-width="1.6" fill="none" marker-end="url(#mr)"/>
<path d="M565.8 342 V291.2 H271 V327.5" stroke="#1a7ad0" stroke-width="1.6" fill="none" marker-end="url(#mb)"/>
<path d="M555.8 342 V297 H397.8 V305" stroke="#d88c5c" stroke-width="1.5" fill="none" marker-end="url(#mo)"/>
<path d="M544 342 V302.8 H416.8 V322" stroke="#1c6b2c" stroke-width="1.6" fill="none" marker-end="url(#mg)"/>
<!-- bottom feedback lines -->
<path d="M177 429 V454 H574 V380" stroke="#c0222a" stroke-width="1.6" fill="none" marker-end="url(#mr)"/>
<path d="M216.8 429 V448.6 H566 V380" stroke="#1a7ad0" stroke-width="1.6" fill="none" marker-end="url(#mb)"/>
<path d="M273.5 428.6 V443.1 H556 V380" stroke="#d88c5c" stroke-width="1.5" fill="none" marker-end="url(#mo)"/>
<path d="M336 428 V434.9 H542 V380" stroke="#1c6b2c" stroke-width="1.6" fill="none" marker-end="url(#mg)"/>
<path d="M398 428 V434.9 M446.5 428 V434.9" stroke="#1c6b2c" stroke-width="1.6"/>
<!-- down arrows -->
<path d="M199.4 367 L171.5 402.5" stroke="#c0222a" stroke-width="1.6" marker-end="url(#mr)"/>
<path d="M199.4 367 L217.7 402.5" stroke="#1a7ad0" stroke-width="1.6" marker-end="url(#mb)"/>
<path d="M273.5 367 V402" stroke="#d88c5c" stroke-width="1.5" marker-end="url(#mo)"/>
<path d="M336 367 V402.5" stroke="#1c6b2c" stroke-width="1.6" marker-end="url(#mg)"/>
<path d="M417 367 L398 402" stroke="#1c6b2c" stroke-width="1.6" marker-end="url(#mg)"/>
<path d="M417 367 L446 402" stroke="#1c6b2c" stroke-width="1.6" marker-end="url(#mg)"/>
<!-- thick arrows -->
<g fill="#0b6fc8">
<path d="M134.7 346.5 H171.5 V343 L177.5 349.5 L171.5 356 V352.5 H134.7Z"/>
<path d="M221 346.5 H247 V343 L253 349.5 L247 356 V352.5 H221Z"/>
<path d="M294.6 346.5 H310.5 V343 L316.5 349.5 L310.5 356 V352.5 H294.6Z"/>
<path d="M358.7 346.5 H388.5 V343 L394.5 349.5 L388.5 356 V352.5 H358.7Z"/>
<path d="M479 346.5 H444 V343 L437.5 349.5 L444 356 V352.5 H479Z"/>
</g>
<!-- boxes -->
<g stroke="#7a7aa8" stroke-width="1.1" fill="url(#g)" filter="url(#sh)">
<rect x="103" y="313.5" width="40" height="30.5" rx="5"/>
<rect x="103" y="355" width="40" height="31" rx="5"/>
<rect x="180" y="328" width="40" height="38.5" rx="6"/>
<rect x="253.5" y="328" width="39.5" height="39" rx="6"/>
<rect x="316.5" y="329" width="39.5" height="38.3" rx="6"/>
<rect x="397.4" y="328.8" width="39.6" height="38" rx="6"/>
<rect x="467.6" y="311.2" width="39.7" height="29" rx="5"/>
<rect x="468.6" y="354.6" width="38.7" height="28.4" rx="5"/>
<rect x="147.7" y="403.3" width="45.7" height="25.8" rx="4"/>
<rect x="195.4" y="403.3" width="45.1" height="25.8" rx="4"/>
<rect x="250.2" y="402.6" width="46.1" height="26" rx="4"/>
<rect x="307.5" y="403" width="57.8" height="24.8" rx="4"/>
<rect x="374.3" y="402.3" width="45.4" height="25.7" rx="4"/>
<rect x="422.2" y="402.3" width="51.1" height="25.7" rx="4"/>
</g>
<rect x="531.5" y="342.5" width="57.7" height="37" rx="7" fill="url(#g)" stroke="#1a1a8c" stroke-width="2.2"/>
<g font-family="Liberation Sans" font-weight="bold" fill="#23236a" font-size="8" text-anchor="middle">
<text x="123" y="327">内部</text><text x="123" y="338">需求</text>
<text x="123" y="369">外部</text><text x="123" y="380">需求</text>
<text x="200" y="346">培养</text><text x="200" y="357">目标</text>
<text x="273" y="346">毕业</text><text x="273" y="357">要求</text>
<text x="336" y="347">课程</text><text x="336" y="358">体系</text>
<text x="417" y="346">课程</text><text x="417" y="357">目标</text>
<text x="487.5" y="324">师资</text><text x="487.5" y="335">队伍</text>
<text x="488" y="368">支持</text><text x="488" y="379">条件</text>
<text x="170.5" y="414">合理性评</text><text x="170.5" y="425">价</text>
<text x="218" y="414">达成</text><text x="218" y="425">分析</text>
<text x="273" y="419">达成评价</text>
<text x="336.5" y="414">课程体系合</text><text x="336.5" y="425">理性评价</text>
<text x="397" y="414">形成性</text><text x="397" y="425">评价</text>
<text x="447.7" y="414">课程目标</text><text x="447.7" y="425">达成评价</text>
</g>
<g font-family="Liberation Sans" font-weight="bold" fill="#1e6b34" font-size="10.8" text-anchor="middle">
<text x="560" y="358">持续</text><text x="560" y="373">改进</text>
</g>
<!-- cursor -->
<path d="M426 358 V370 L429 367 L431.5 372 L433 371.3 L430.8 366.3 L435 366Z" fill="#fff" stroke="#333" stroke-width="0.8"/>
</svg>

<!-- taskbar -->
<div class="a" style="left:2px;top:538px;width:687px;height:26px;background:linear-gradient(90deg,#e3ebf4,#dce8f4 40%,#e2ebf4 70%,#e8eef5)"></div>
<svg class="a" style="left:256px;top:545px" width="13" height="13" viewBox="0 0 13 13"><rect x="0" y="0" width="6" height="6" fill="#1a8ae6"/><rect x="7" y="0" width="6" height="6" fill="#1a8ae6"/><rect x="0" y="7" width="6" height="6" fill="#1a8ae6"/><rect x="7" y="7" width="6" height="6" fill="#1a8ae6"/></svg>
<div class="t" style="left:280px;top:543px;font-size:16px;font-weight:bold;color:#4cb648;font-style:italic">e</div>
<div class="a" style="left:304px;top:545px;width:13px;height:13px;border-radius:3px;background:#fff"></div>
<svg class="a" style="left:305px;top:547px" width="11" height="9" viewBox="0 0 11 9"><circle cx="3.5" cy="5.5" r="2.5" stroke="#3b8de0" stroke-width="1.2" fill="none"/><circle cx="7.5" cy="5.5" r="2.5" stroke="#3b8de0" stroke-width="1.2" fill="none"/><circle cx="5.5" cy="2.7" r="2.2" stroke="#e04a7a" stroke-width="1.2" fill="none"/></svg>
<div class="a" style="left:322px;top:541px;width:23px;height:21px;background:rgba(255,255,255,.55);border-radius:3px"></div>
<div class="t" style="left:325px;top:545px;font-size:13px;font-weight:bold;color:#d9342b;font-style:italic">W</div>
<div class="a" style="left:328px;top:561px;width:8px;height:2px;background:#2a78d8"></div>
<div class="a" style="left:345px;top:541px;width:23px;height:21px;background:rgba(255,220,220,.6);border-radius:3px"></div>
<div class="a" style="left:350px;top:546px;width:12px;height:11px;border-radius:50%;background:#30b94a"></div>
<div class="a" style="left:355px;top:550px;width:9px;height:8px;border-radius:50%;background:#eaeaea"></div>
<div class="a" style="left:354px;top:561px;width:4px;height:2px;background:#e04a4a"></div>
<div class="a" style="left:375px;top:545px;width:12px;height:13px;background:#e5482e;border-radius:2px"></div>
<svg class="a" style="left:376px;top:547px" width="10" height="9" viewBox="0 0 10 9"><path d="M1 0.5L9 8.5M9 0.5L1 8.5" stroke="#fff" stroke-width="1.3"/></svg>
<div class="a" style="left:398px;top:545px;width:13px;height:13px;background:#1b7ae0;border-radius:2px"></div>
<svg class="a" style="left:399px;top:548px" width="11" height="7" viewBox="0 0 11 7"><path d="M0.5 6.5L3 1L5.5 5L8 1L10.5 6.5" stroke="#fff" stroke-width="1.5" fill="none"/></svg>
<div class="a" style="left:422px;top:545px;width:12px;height:13px;background:#e64a45;border-radius:1px"></div>
<div class="a" style="left:428px;top:552px;width:7px;height:6px;background:#fff;border:1px solid #e64a45"></div>
<div class="a" style="left:373px;top:561px;width:4px;height:1px;background:#777;box-shadow:25px 0 #777,48px 0 #777"></div>
<div class="a" style="left:285px;top:561px;width:4px;height:1px;background:#777;box-shadow:24px 0 #777"></div>
<svg class="a" style="left:519px;top:548px" width="8" height="5" viewBox="0 0 8 5"><path d="M0.5 4.5L4 1L7.5 4.5" stroke="#444" stroke-width="1" fill="none"/></svg>
<svg class="a" style="left:537px;top:545px" width="6" height="12" viewBox="0 0 6 12"><rect x="1" y="0" width="4" height="8" rx="2" fill="#3b7de0"/><path d="M3 8.5V11.5" stroke="#3b7de0" stroke-width="1"/></svg>
<div class="t" style="left:553px;top:546px;font-size:9px;color:#aaa">中</div>
<div class="t" style="left:573px;top:545.5px;font-size:10px;font-weight:bold;color:#f05a24;-webkit-text-stroke:1.2px #f05a24;transform:rotate(-10deg)">S</div><div class="t" style="left:574.5px;top:546.5px;font-size:8px;font-weight:bold;color:#fff;transform:rotate(-10deg)">S</div>
<svg class="a" style="left:592px;top:546px" width="11" height="9" viewBox="0 0 11 9"><path d="M0.5 3A7 7 0 0 1 10.5 3 M2.5 5A4 4 0 0 1 8.5 5 M4.5 7A1.5 1.5 0 0 1 6.5 7" stroke="#444" stroke-width="1" fill="none"/></svg>
<svg class="a" style="left:606px;top:546px" width="9" height="9" viewBox="0 0 9 9"><path d="M0.5 3H2.5L5 1V8L2.5 6H0.5Z" stroke="#444" stroke-width="0.9" fill="none"/><path d="M6.5 2.5A3 3 0 0 1 6.5 6.5" stroke="#444" stroke-width="0.9" fill="none"/></svg>
<svg class="a" style="left:619px;top:546px" width="10" height="9" viewBox="0 0 10 9"><rect x="2" y="2" width="7" height="5" stroke="#444" stroke-width="0.9" fill="none"/><path d="M0.5 0.5L3 3" stroke="#111" stroke-width="1.5"/></svg>
<div class="t" style="left:630px;top:543.5px;width:34px;text-align:right;font-size:7px;color:#333">9:31</div>
<div class="t" style="left:630px;top:551.5px;width:34px;text-align:right;font-size:6.6px;color:#333">2022/5/1</div>
<svg class="a" style="left:671px;top:547px" width="9" height="10" viewBox="0 0 9 10"><path d="M3 0.5A4.5 4.5 0 1 0 8.5 7A4 4 0 0 1 3 0.5Z" stroke="#444" stroke-width="0.9" fill="none"/></svg>
<!-- sogou ime -->
<div class="a" style="left:621px;top:491px;width:68px;height:12px;background:#fff;border:1px solid #eef0f3"></div>
<div class="a" style="left:607px;top:488px;width:15px;height:15px;background:#f15a22;border-radius:4px;transform:rotate(-10deg)"></div>
<div class="t" style="left:610px;top:489px;font-size:12px;font-weight:bold;color:#fff">S</div>
<div class="t" style="left:626px;top:492px;font-size:9px;font-weight:bold;color:#1a6fd0">中</div>
<div class="t" style="left:640px;top:491px;font-size:9px;font-weight:bold;color:#1a6fd0">°,</div>
<svg class="a" style="left:653px;top:492px" width="6" height="10" viewBox="0 0 6 10"><rect x="1.5" y="0" width="3" height="6" rx="1.5" fill="#1a6fd0"/><path d="M0.5 4A2.5 2.5 0 0 0 5.5 4 M3 7V9.5" stroke="#1a6fd0" stroke-width="0.9" fill="none"/></svg>
<div class="a" style="left:665px;top:493px;width:10px;height:8px;background:#1a6fd0;border-radius:1px"></div><div class="a" style="left:667px;top:495.5px;width:6px;height:1px;background:#fff;box-shadow:0 2px #fff"></div>
<div class="a" style="left:679px;top:493px;width:3.5px;height:3.5px;background:#1a6fd0;box-shadow:4.5px 0 #1a6fd0,0 4.5px #1a6fd0,4.5px 4.5px #1a6fd0"></div>
<!-- floating outline btn -->
<div class="a" style="left:2px;top:475px;width:34px;height:28px;background:#868789;border-radius:0 4px 4px 0"></div>
<svg class="a" style="left:10px;top:482px" width="17" height="14" viewBox="0 0 17 14"><path d="M4 1.5H16 M4 7H16 M4 12.5H16" stroke="#fff" stroke-width="1.5"/><circle cx="1.2" cy="1.5" r="0.9" fill="#fff"/><circle cx="1.2" cy="7" r="0.9" fill="#fff"/><circle cx="1.2" cy="12.5" r="0.9" fill="#fff"/></svg>
<!-- lock tooltip overlay -->
<div class="a" style="left:13px;top:92px;width:80px;height:28px;background:rgba(30,30,30,.78);border-radius:3px"></div>
<svg class="a" style="left:23px;top:97px" width="10" height="17" viewBox="0 0 10 17"><path d="M2 0.5H8L7 2V6L9.5 8.5H0.5L3 6V2Z" fill="#c9c9c9"/><path d="M5 8.5V16.5" stroke="#c9c9c9" stroke-width="1.2"/></svg>
<div class="t" style="left:41.5px;top:101px;font-size:10.3px;color:#fff">锁定画面</div>

<!-- member popup -->
<div class="a" style="left:667px;top:107px;width:187px;height:71px;background:#fff;box-shadow:0 1px 3px rgba(0,0,0,.2)"></div>
<div class="t" style="left:730px;top:129px;font-size:11.1px;color:#2b2b2b">杜芳莉</div>
<div class="t" style="left:730px;top:145.5px;font-size:11.1px;color:#9a9a9a">(我)</div>
<!-- ===== bottom toolbar ===== -->
<div class="a" style="left:2px;top:570px;width:852px;height:45px;background:#fff"></div>

<svg class="a" style="left:681px;top:120px" width="41" height="41" viewBox="0 0 100 100"><defs><clipPath id="cp1"><circle cx="50" cy="50" r="50"/></clipPath></defs><g clip-path="url(#cp1)"><rect width="100" height="100" fill="#d9cfc4"/>
<path d="M15 55 L50 32 L85 55 L65 98 L30 98Z" fill="#1c4232"/>
<path d="M8 62 L26 50 L28 72Z M86 62 L98 55 L94 74Z" fill="#25533e"/>
<circle cx="38" cy="24" r="17" fill="#2cb4cb"/><path d="M26.1 22.3 A11.9 11.9 0 0 1 48.2 18.1" stroke="#8fe3ec" stroke-width="3.7" fill="none"/><path d="M32.0 28.2 A6.8 6.8 0 0 0 45.6 25.7" stroke="#6fd2e0" stroke-width="3.1" fill="none"/><circle cx="38.9" cy="24.9" r="3.7" fill="#137896"/><circle cx="68" cy="22" r="16" fill="#33bccf"/><path d="M56.8 20.4 A11.2 11.2 0 0 1 77.6 16.4" stroke="#8fe3ec" stroke-width="3.5" fill="none"/><path d="M62.4 26.0 A6.4 6.4 0 0 0 75.2 23.6" stroke="#6fd2e0" stroke-width="2.9" fill="none"/><circle cx="68.8" cy="22.8" r="3.5" fill="#137896"/><circle cx="88" cy="50" r="14" fill="#2aaac6"/><path d="M78.2 48.6 A9.8 9.8 0 0 1 96.4 45.1" stroke="#8fe3ec" stroke-width="3.1" fill="none"/><path d="M83.1 53.5 A5.6 5.6 0 0 0 94.3 51.4" stroke="#6fd2e0" stroke-width="2.5" fill="none"/><circle cx="88.7" cy="50.7" r="3.1" fill="#137896"/><circle cx="36" cy="56" r="17" fill="#1f9cc2"/><path d="M24.1 54.3 A11.9 11.9 0 0 1 46.2 50.0" stroke="#8fe3ec" stroke-width="3.7" fill="none"/><path d="M30.1 60.2 A6.8 6.8 0 0 0 43.6 57.7" stroke="#6fd2e0" stroke-width="3.1" fill="none"/><circle cx="36.9" cy="56.9" r="3.7" fill="#137896"/><circle cx="66" cy="56" r="15" fill="#2fb6cc"/><path d="M55.5 54.5 A10.5 10.5 0 0 1 75.0 50.8" stroke="#8fe3ec" stroke-width="3.3" fill="none"/><path d="M60.8 59.8 A6.0 6.0 0 0 0 72.8 57.5" stroke="#6fd2e0" stroke-width="2.7" fill="none"/><circle cx="66.8" cy="56.8" r="3.3" fill="#137896"/><circle cx="28" cy="82" r="14" fill="#33b8cc"/><path d="M18.2 80.6 A9.8 9.8 0 0 1 36.4 77.1" stroke="#8fe3ec" stroke-width="3.1" fill="none"/><path d="M23.1 85.5 A5.6 5.6 0 0 0 34.3 83.4" stroke="#6fd2e0" stroke-width="2.5" fill="none"/><circle cx="28.7" cy="82.7" r="3.1" fill="#137896"/><circle cx="56" cy="84" r="16" fill="#2092bb"/><path d="M44.8 82.4 A11.2 11.2 0 0 1 65.6 78.4" stroke="#8fe3ec" stroke-width="3.5" fill="none"/><path d="M50.4 88.0 A6.4 6.4 0 0 0 63.2 85.6" stroke="#6fd2e0" stroke-width="2.9" fill="none"/><circle cx="56.8" cy="84.8" r="3.5" fill="#137896"/><circle cx="84" cy="78" r="12" fill="#3ac3d3"/><path d="M75.6 76.8 A8.4 8.4 0 0 1 91.2 73.8" stroke="#8fe3ec" stroke-width="2.6" fill="none"/><path d="M79.8 81.0 A4.8 4.8 0 0 0 89.4 79.2" stroke="#6fd2e0" stroke-width="2.2" fill="none"/><circle cx="84.6" cy="78.6" r="2.6" fill="#137896"/></g></svg>
<!-- bottom icons -->
<svg class="a" style="left:23px;top:576px" width="18" height="23" viewBox="0 0 18 23"><rect x="5" y="0.5" width="8" height="14" rx="4" fill="#45484d"/><path d="M1.5 10C1.5 15 4.5 17.5 9 17.5C13.5 17.5 16.5 15 16.5 10" stroke="#45484d" stroke-width="1.9" fill="none"/><path d="M9 17.5V21.5M4 21.8H14" stroke="#45484d" stroke-width="1.9"/></svg>
<div class="t" style="left:22px;top:602px;font-size:10.1px;color:#333">静音</div>
<svg class="a" style="left:58px;top:591px" width="9" height="6" viewBox="0 0 9 6"><path d="M1 5L4.5 1.5L8 5" stroke="#45484d" stroke-width="1.5" fill="none"/></svg>
<svg class="a" style="left:82px;top:578px" width="24" height="19" viewBox="0 0 24 19"><rect x="0" y="3" width="16" height="13" rx="1" fill="#45484d"/><path d="M16 8L23.5 3.5V15.5L16 11Z" fill="#45484d"/><path d="M2 18L17 1" stroke="#fff" stroke-width="3"/><path d="M2 18L17 1" stroke="#f0473c" stroke-width="1.6"/></svg>
<div class="t" style="left:73px;top:602px;font-size:10.1px;color:#333">开启视频</div>
<svg class="a" style="left:120px;top:591px" width="9" height="6" viewBox="0 0 9 6"><path d="M1 5L4.5 1.5L8 5" stroke="#45484d" stroke-width="1.5" fill="none"/></svg>
<svg class="a" style="left:229px;top:579px" width="23" height="21" viewBox="0 0 23 21"><rect x="0" y="0" width="23" height="15" rx="1.5" fill="#45484d"/><rect x="6" y="18" width="11" height="2.2" fill="#45484d"/><path d="M7 11.5C7.5 8 9.5 6.5 13 6.3" stroke="#fff" stroke-width="1.6" fill="none"/><path d="M12 3.8L15.5 6.3L12 8.8Z" fill="#fff"/></svg>
<div class="t" style="left:220px;top:602px;font-size:10.1px;color:#333">共享屏幕</div>
<svg class="a" style="left:268px;top:591px" width="9" height="6" viewBox="0 0 9 6"><path d="M1 5L4.5 1.5L8 5" stroke="#45484d" stroke-width="1.5" fill="none"/></svg>
<svg class="a" style="left:293px;top:578px" width="22" height="20" viewBox="0 0 22 20"><circle cx="9" cy="4.5" r="4.3" fill="#45484d"/><path d="M0 19.5C0 13 3.5 10.5 9 10.5C12 10.5 14 11 15.5 12.5L15.5 19.5Z" fill="#45484d"/><circle cx="16.5" cy="15" r="5" fill="#45484d" stroke="#fff" stroke-width="1.2"/><path d="M16.5 12.3V17.7M13.8 15H19.2" stroke="#fff" stroke-width="1.5"/></svg>
<div class="t" style="left:292px;top:602px;font-size:10.1px;color:#333">邀请</div>
<svg class="a" style="left:343px;top:578px" width="22" height="20" viewBox="0 0 22 20"><circle cx="9.5" cy="4.8" r="4.6" fill="#45484d"/><path d="M0.5 19.5C0.5 13 4 10.8 9.5 10.8C15 10.8 18.5 13 18.5 19.5Z" fill="#45484d"/><path d="M14 1A4.5 4.5 0 0 1 14.5 8.8M17 11.5C20 12.8 21.5 15 21.5 19.5" stroke="#45484d" stroke-width="1.4" fill="none"/></svg>
<div class="t" style="left:333px;top:602px;font-size:10.1px;color:#333">成员(18)</div>
<svg class="a" style="left:394px;top:579px" width="20" height="19" viewBox="0 0 20 19"><path d="M1.5 0.5H18.5A1 1 0 0 1 19.5 1.5V13.5A1 1 0 0 1 18.5 14.5H13L10 18.5V14.5H1.5A1 1 0 0 1 0.5 13.5V1.5A1 1 0 0 1 1.5 0.5Z" fill="#45484d"/><circle cx="5.8" cy="7.5" r="1.4" fill="#fff"/><circle cx="10" cy="7.5" r="1.4" fill="#fff"/><circle cx="14.2" cy="7.5" r="1.4" fill="#fff"/></svg>
<div class="t" style="left:393px;top:602px;font-size:10.1px;color:#333">聊天</div>
<svg class="a" style="left:444px;top:578px" width="20" height="20" viewBox="0 0 20 20"><path d="M1.5 0.5H18.5A1 1 0 0 1 19.5 1.5V14.5A1 1 0 0 1 18.5 15.5H13L10 19.5V15.5H1.5A1 1 0 0 1 0.5 14.5V1.5A1 1 0 0 1 1.5 0.5Z" fill="#45484d"/><text x="10" y="12.5" font-family="Liberation Sans" font-size="12" font-weight="bold" fill="#fff" text-anchor="middle">?</text></svg>
<div class="t" style="left:443px;top:602px;font-size:10.1px;color:#333">问答</div>
<svg class="a" style="left:501px;top:577px" width="22" height="22" viewBox="0 0 22 22"><circle cx="11" cy="11" r="10" stroke="#45484d" stroke-width="1.6" fill="none"/><circle cx="11" cy="11" r="7.6" fill="#45484d"/></svg>
<div class="t" style="left:501px;top:602px;font-size:10.1px;color:#333">录制</div>
<svg class="a" style="left:560px;top:578px" width="21" height="20" viewBox="0 0 21 20"><rect x="0" y="1" width="8.5" height="8.5" rx="1.5" fill="#45484d"/><rect x="0" y="11.5" width="8.5" height="8.5" rx="1.5" fill="#45484d"/><rect x="10.5" y="11.5" width="8.5" height="8.5" rx="1.5" fill="#45484d"/><path d="M14.8 0.8L19.8 5.5L14.8 10.2L9.8 5.5Z" stroke="#45484d" stroke-width="1.5" fill="none"/></svg>
<div class="t" style="left:559px;top:602px;font-size:10.1px;color:#333">应用</div>
<svg class="a" style="left:611px;top:578px" width="21" height="21" viewBox="0 0 24 24"><path fill="#45484d" d="M19.4 13c.04-.32.06-.66.06-1s-.02-.68-.06-1l2.1-1.65c.2-.15.25-.42.13-.64l-2-3.46c-.12-.22-.39-.3-.61-.22l-2.49 1c-.52-.4-1.08-.73-1.69-.98l-.38-2.65C14.46 2.18 14.25 2 14 2h-4c-.25 0-.46.18-.49.42l-.38 2.65c-.61.25-1.17.59-1.69.98l-2.49-1c-.23-.09-.49 0-.61.22l-2 3.46c-.13.22-.07.49.12.64L4.57 11c-.04.32-.07.66-.07 1s.03.68.07 1l-2.11 1.65c-.19.15-.24.42-.12.64l2 3.46c.12.22.39.3.61.22l2.49-1c.52.4 1.08.73 1.69.98l.38 2.65c.03.24.24.42.49.42h4c.25 0 .46-.18.49-.42l.38-2.65c.61-.25 1.17-.59 1.69-.98l2.49 1c.23.09.49 0 .61-.22l2-3.46c.12-.22.07-.49-.12-.64L19.4 13zM12 15.5c-1.93 0-3.5-1.57-3.5-3.5s1.57-3.5 3.5-3.5 3.5 1.57 3.5 3.5-1.57 3.5-3.5 3.5z"/></svg>
<div class="t" style="left:610px;top:602px;font-size:10.1px;color:#333">设置</div>
<!-- leave -->
<div class="a" style="left:771px;top:578px;width:72px;height:34px;border:1px solid #f5787a;border-radius:3px;background:#fff"></div>
<div class="t" style="left:782px;top:588.5px;letter-spacing:0.7px;font-size:12.4px;color:#ef4d4f">离开会议</div>

<!-- ===== right panel ===== -->
<div class="a" style="left:854px;top:51px;width:346px;height:564px;background:#fff"></div>
<div class="a" style="left:854px;top:51px;width:1px;height:564px;background:#e4e5e8"></div>
<!-- tabs -->
<div class="a" style="left:855px;top:51px;width:159px;height:28px;background:#eceef1;border-top:1px solid #e3e4e7;border-bottom:1px solid #e3e4e7"></div>
<div class="a" style="left:1014px;top:51px;width:160px;height:28px;background:#fff;border-top:1px solid #e3e4e7;border-left:1px solid #e3e4e7;border-bottom:1px solid #eceef1"></div>
<div class="a" style="left:1174px;top:51px;width:26px;height:28px;background:#eceef1;border-top:1px solid #e3e4e7;border-bottom:1px solid #e3e4e7"></div>
<svg class="a" style="left:859px;top:59px" width="13" height="13" viewBox="0 0 13 13"><path d="M1.5 0.5H11.5A1 1 0 0 1 12.5 1.5V8.5A1 1 0 0 1 11.5 9.5H10V12.3L7.2 9.5H1.5A1 1 0 0 1 0.5 8.5V1.5A1 1 0 0 1 1.5 0.5Z" fill="#8b8f95"/><circle cx="3.8" cy="5" r="0.9" fill="#fff"/><circle cx="6.5" cy="5" r="0.9" fill="#fff"/><circle cx="9.2" cy="5" r="0.9" fill="#fff"/></svg>
<div class="t" style="left:876px;top:60.5px;font-size:11.2px;color:#2b2b2b">聊天</div>
<svg class="a" style="left:1019px;top:58px" width="14" height="14" viewBox="0 0 14 14"><circle cx="7" cy="3.6" r="3.1" fill="#8b8f95"/><path d="M0.5 13.5C0.5 9 3 7.5 7 7.5C11 7.5 13.5 9 13.5 13.5Z" fill="#8b8f95"/></svg>
<div class="t" style="left:1037px;top:60.5px;font-size:11.2px;color:#2b2b2b">成员</div>
<svg class="a" style="left:1145px;top:63px" width="14" height="4" viewBox="0 0 14 4"><circle cx="2" cy="2" r="1.2" fill="#2b2b2b"/><circle cx="7" cy="2" r="1.2" fill="#2b2b2b"/><circle cx="12" cy="2" r="1.2" fill="#2b2b2b"/></svg>
<svg class="a" style="left:1161px;top:60px" width="10" height="10" viewBox="0 0 10 10"><path d="M1 1L9 9M9 1L1 9" stroke="#222" stroke-width="1.5"/></svg>
<svg class="a" style="left:1182px;top:60px" width="9" height="9" viewBox="0 0 9 9"><path d="M0 1.5H9M0 4.5H9M0 7.5H9" stroke="#b8bbc0" stroke-width="1.2"/></svg>
<!-- search -->
<div class="a" style="left:865px;top:87px;width:324px;height:28px;border:1px solid #d7d9dd;border-radius:5px;background:#fff"></div>
<svg class="a" style="left:871px;top:94px" width="14" height="14" viewBox="0 0 14 14"><circle cx="6" cy="6" r="4.6" stroke="#5f6670" stroke-width="1.8" fill="none"/><path d="M9.3 9.3L12.8 12.8" stroke="#5f6670" stroke-width="2"/></svg>
<div class="t" style="left:888px;top:96px;font-size:11.1px;color:#9a9ca0">搜索成员</div>
<div class="a" style="left:1146px;top:92px;width:54px;height:18px;background:#fff;border:1px solid #8f8f8f;box-shadow:1px 1px 2px rgba(0,0,0,.25)"></div>
<div class="t" style="left:1150px;top:96px;font-size:11.1px;color:#4a4a4a">更多操作</div>
<!-- sub tabs -->
<div class="a" style="left:855px;top:123px;width:171px;height:34px;background:#fcfcfd;border-top:1px solid #edeef0"></div>
<div class="a" style="left:1026px;top:123px;width:174px;height:34px;background:#f3f4f6;border-top:1px solid #edeef0"></div>
<div class="t" style="left:918.5px;top:135px;font-size:11.3px;color:#1c72ea">嘉宾(16)</div>
<div class="t" style="left:1095.5px;top:134px;font-size:11.3px;color:#2b2b2b">观众(2)</div>
<div class="a" style="left:879px;top:157px;width:11px;height:1px;background:#888"></div>

<svg class="a" style="left:870px;top:169.9px" width="29" height="29" viewBox="0 0 100 100"><defs><clipPath id="cr0"><circle cx="50" cy="50" r="50"/></clipPath></defs><g clip-path="url(#cr0)"><rect width="100" height="100" fill="#151314"/>
<ellipse cx="54" cy="50" rx="30" ry="38" fill="#2a201c"/>
<ellipse cx="57" cy="56" rx="16" ry="21" fill="#ecd0bf"/>
<path d="M36 40 Q50 20 74 34 L73 44 Q60 34 44 46Z" fill="#2a201c"/>
<ellipse cx="57" cy="70" rx="6" ry="2.5" fill="#c98f86"/>
<path d="M30 100 Q40 78 57 80 Q75 78 85 100Z" fill="#0c0b0c"/></g></svg>
<div class="t" style="left:908px;top:170.9px;font-size:11.2px;color:#262626">王莺</div>
<div class="t" style="left:908px;top:187.4px;font-size:11.2px;color:#8e8e8e">(主持人)</div>
<svg class="a" style="left:1129px;top:178.4px" width="12" height="11" viewBox="0 0 12 11"><rect x="0" y="0" width="12" height="8" rx="1" fill="#c8cacd"/><rect x="3" y="9.5" width="6" height="1.3" fill="#c8cacd"/><path d="M3.5 6 Q5 3 8.5 2.8 M7 1.5 L8.8 2.8 L7.2 4.2" stroke="#fff" stroke-width="1" fill="none"/></svg>
<svg class="a" style="left:1151px;top:176.4px" width="13" height="15" viewBox="0 0 13 15"><rect x="3.8" y="0" width="5.4" height="9.5" rx="2.7" fill="#c8cacd"/><path d="M1.3 6.5 C1.3 10 3.5 11.6 6.5 11.6 C9.5 11.6 11.7 10 11.7 6.5" stroke="#c8cacd" stroke-width="1.2" fill="none"/><path d="M6.5 11.6V14 M3.5 14.3H9.5" stroke="#c8cacd" stroke-width="1.2"/></svg>
<svg class="a" style="left:1173px;top:179.4px" width="15" height="10" viewBox="0 0 15 10"><rect x="0" y="1" width="10" height="8" rx="1" fill="#c8cacd"/><path d="M10 4L14.5 1V9L10 6Z" fill="#c8cacd"/><path d="M0.3 9.8L10.5 0.3" stroke="#f26a5c" stroke-width="1.2"/></svg>
<div class="a" style="left:870px;top:211.2px;width:29px;height:29px;border-radius:50%;background:#0a6cff"></div>
<div class="t" style="left:870px;top:220.2px;width:29px;text-align:center;font-size:11px;color:#fff">79</div>
<div class="t" style="left:908px;top:212.2px;font-size:12.2px;color:#262626">199****0579</div>
<div class="t" style="left:908px;top:228.7px;font-size:11.2px;color:#8e8e8e">(嘉宾)</div>
<svg class="a" style="left:1151px;top:217.7px" width="13" height="15" viewBox="0 0 13 15"><rect x="3.8" y="0" width="5.4" height="9.5" rx="2.7" fill="#c8cacd"/><path d="M1.3 6.5 C1.3 10 3.5 11.6 6.5 11.6 C9.5 11.6 11.7 10 11.7 6.5" stroke="#c8cacd" stroke-width="1.2" fill="none"/><path d="M6.5 11.6V14 M3.5 14.3H9.5" stroke="#c8cacd" stroke-width="1.2"/><path d="M0.5 14.5L12.5 1.5" stroke="#f26a5c" stroke-width="1.2"/></svg>
<svg class="a" style="left:1173px;top:220.7px" width="15" height="10" viewBox="0 0 15 10"><rect x="0" y="1" width="10" height="8" rx="1" fill="#c8cacd"/><path d="M10 4L14.5 1V9L10 6Z" fill="#c8cacd"/><path d="M0.3 9.8L10.5 0.3" stroke="#f26a5c" stroke-width="1.2"/></svg>
<svg class="a" style="left:870px;top:252.5px" width="29" height="29" viewBox="0 0 100 100"><defs><clipPath id="cr2"><circle cx="50" cy="50" r="50"/></clipPath></defs><g clip-path="url(#cr2)"><rect width="100" height="100" fill="#c4c2c0"/>
<path d="M15 38 L50 14 L85 38Z" fill="#5c221c"/>
<rect x="8" y="36" width="84" height="44" fill="#6e2c24"/>
<rect x="40" y="26" width="20" height="54" fill="#b04536"/>
<g fill="#d9d2cc"><rect x="14" y="44" width="6" height="8"/><rect x="26" y="44" width="6" height="8"/><rect x="68" y="44" width="6" height="8"/><rect x="80" y="44" width="6" height="8"/><rect x="14" y="60" width="6" height="8"/><rect x="80" y="60" width="6" height="8"/></g>
<rect x="0" y="78" width="100" height="22" fill="#7a7876"/>
<rect x="46" y="18" width="8" height="8" fill="#e04a3a"/></g></svg>
<div class="t" style="left:908px;top:253.5px;font-size:12px;color:#262626">mrhuzi</div>
<div class="t" style="left:908px;top:270.0px;font-size:11.2px;color:#8e8e8e">(嘉宾)</div>
<svg class="a" style="left:1151px;top:259.0px" width="13" height="15" viewBox="0 0 13 15"><rect x="3.8" y="0" width="5.4" height="9.5" rx="2.7" fill="#c8cacd"/><path d="M1.3 6.5 C1.3 10 3.5 11.6 6.5 11.6 C9.5 11.6 11.7 10 11.7 6.5" stroke="#c8cacd" stroke-width="1.2" fill="none"/><path d="M6.5 11.6V14 M3.5 14.3H9.5" stroke="#c8cacd" stroke-width="1.2"/><path d="M0.5 14.5L12.5 1.5" stroke="#f26a5c" stroke-width="1.2"/></svg>
<svg class="a" style="left:1173px;top:262.0px" width="15" height="10" viewBox="0 0 15 10"><rect x="0" y="1" width="10" height="8" rx="1" fill="#c8cacd"/><path d="M10 4L14.5 1V9L10 6Z" fill="#c8cacd"/><path d="M0.3 9.8L10.5 0.3" stroke="#f26a5c" stroke-width="1.2"/></svg>
<svg class="a" style="left:870px;top:293.8px" width="29" height="29" viewBox="0 0 100 100"><defs><clipPath id="cr3"><circle cx="50" cy="50" r="50"/></clipPath></defs><g clip-path="url(#cr3)"><rect width="100" height="100" fill="#b5231c"/>
<ellipse cx="50" cy="50" rx="40" ry="45" fill="#c93a2e"/>
<rect x="0" y="43" width="100" height="12" fill="#b89a3a"/>
<g fill="#e0d060"><rect x="10" y="46" width="8" height="6"/><rect x="30" y="45" width="6" height="8"/><rect x="50" y="46" width="9" height="6"/><rect x="72" y="45" width="7" height="8"/></g>
<path d="M0 70 Q50 60 100 70 L100 100 L0 100Z" fill="#9d1b16"/></g></svg>
<div class="t" style="left:908px;top:294.8px;font-size:11.2px;color:#262626">樊丽娟</div>
<div class="t" style="left:908px;top:311.3px;font-size:11.2px;color:#8e8e8e">(嘉宾)</div>
<svg class="a" style="left:1151px;top:300.3px" width="13" height="15" viewBox="0 0 13 15"><rect x="3.8" y="0" width="5.4" height="9.5" rx="2.7" fill="#c8cacd"/><path d="M1.3 6.5 C1.3 10 3.5 11.6 6.5 11.6 C9.5 11.6 11.7 10 11.7 6.5" stroke="#c8cacd" stroke-width="1.2" fill="none"/><path d="M6.5 11.6V14 M3.5 14.3H9.5" stroke="#c8cacd" stroke-width="1.2"/><path d="M0.5 14.5L12.5 1.5" stroke="#f26a5c" stroke-width="1.2"/></svg>
<svg class="a" style="left:1173px;top:303.3px" width="15" height="10" viewBox="0 0 15 10"><rect x="0" y="1" width="10" height="8" rx="1" fill="#c8cacd"/><path d="M10 4L14.5 1V9L10 6Z" fill="#c8cacd"/><path d="M0.3 9.8L10.5 0.3" stroke="#f26a5c" stroke-width="1.2"/></svg>
<svg class="a" style="left:870px;top:335.1px" width="29" height="29" viewBox="0 0 100 100"><defs><clipPath id="cr4"><circle cx="50" cy="50" r="50"/></clipPath></defs><g clip-path="url(#cr4)"><defs><linearGradient id="skr4" x1="0" y1="0" x2="0" y2="1"><stop offset="0" stop-color="#5ea3dc"/><stop offset="1" stop-color="#c9e2ee"/></linearGradient></defs>
<rect width="100" height="100" fill="url(#skr4)"/>
<path d="M70 5 L76 8 L62 62 L57 60Z" fill="#f2ead8"/>
<ellipse cx="48" cy="68" rx="15" ry="26" fill="#a25f33"/>
<path d="M28 100 Q30 82 48 85 Q66 82 70 100Z" fill="#6e3245"/></g></svg>
<div class="t" style="left:908px;top:336.1px;font-size:11.2px;color:#262626">范小苗</div>
<div class="t" style="left:908px;top:352.6px;font-size:11.2px;color:#8e8e8e">(嘉宾)</div>
<svg class="a" style="left:1151px;top:341.6px" width="13" height="15" viewBox="0 0 13 15"><rect x="3.8" y="0" width="5.4" height="9.5" rx="2.7" fill="#c8cacd"/><path d="M1.3 6.5 C1.3 10 3.5 11.6 6.5 11.6 C9.5 11.6 11.7 10 11.7 6.5" stroke="#c8cacd" stroke-width="1.2" fill="none"/><path d="M6.5 11.6V14 M3.5 14.3H9.5" stroke="#c8cacd" stroke-width="1.2"/><path d="M0.5 14.5L12.5 1.5" stroke="#f26a5c" stroke-width="1.2"/></svg>
<svg class="a" style="left:1173px;top:344.6px" width="15" height="10" viewBox="0 0 15 10"><rect x="0" y="1" width="10" height="8" rx="1" fill="#c8cacd"/><path d="M10 4L14.5 1V9L10 6Z" fill="#c8cacd"/><path d="M0.3 9.8L10.5 0.3" stroke="#f26a5c" stroke-width="1.2"/></svg>
<svg class="a" style="left:870px;top:376.4px" width="29" height="29" viewBox="0 0 100 100"><defs><clipPath id="cr5"><circle cx="50" cy="50" r="50"/></clipPath></defs><g clip-path="url(#cr5)"><rect width="100" height="100" fill="#7fb1e3"/>
<rect x="0" y="48" width="100" height="52" fill="#506f8a"/>
<path d="M0 34 L100 30 L100 36 L0 40Z" fill="#3b3b46"/>
<path d="M0 44 L100 40 L100 46 L0 50Z" fill="#3b3b46"/>
<path d="M10 40 L20 34 M20 44 L30 34 M30 44 L40 34 M40 44 L50 34 M50 44 L60 32 M60 42 L70 32 M70 42 L80 32 M80 42 L90 30" stroke="#3b3b46" stroke-width="2.5"/>
<rect x="0" y="62" width="100" height="4" fill="#7d98ae"/>
<circle cx="35" cy="82" r="5" fill="#d04070"/></g></svg>
<div class="t" style="left:908px;top:377.4px;font-size:11.2px;color:#262626">方向青（姓名-学院-班级-学号)</div>
<div class="t" style="left:908px;top:393.9px;font-size:11.2px;color:#8e8e8e">(嘉宾)</div>
<svg class="a" style="left:1151px;top:382.9px" width="13" height="15" viewBox="0 0 13 15"><rect x="3.8" y="0" width="5.4" height="9.5" rx="2.7" fill="#c8cacd"/><path d="M1.3 6.5 C1.3 10 3.5 11.6 6.5 11.6 C9.5 11.6 11.7 10 11.7 6.5" stroke="#c8cacd" stroke-width="1.2" fill="none"/><path d="M6.5 11.6V14 M3.5 14.3H9.5" stroke="#c8cacd" stroke-width="1.2"/><path d="M0.5 14.5L12.5 1.5" stroke="#f26a5c" stroke-width="1.2"/></svg>
<svg class="a" style="left:1173px;top:385.9px" width="15" height="10" viewBox="0 0 15 10"><rect x="0" y="1" width="10" height="8" rx="1" fill="#c8cacd"/><path d="M10 4L14.5 1V9L10 6Z" fill="#c8cacd"/><path d="M0.3 9.8L10.5 0.3" stroke="#f26a5c" stroke-width="1.2"/></svg>
<svg class="a" style="left:870px;top:417.7px" width="29" height="29" viewBox="0 0 100 100"><defs><clipPath id="cr6"><circle cx="50" cy="50" r="50"/></clipPath></defs><g clip-path="url(#cr6)"><rect width="100" height="100" fill="#eee1c5"/>
<circle cx="34" cy="42" r="26" fill="#d7302a"/>
<path d="M40 45 L80 30 L92 55 L70 80 L45 75Z" fill="#6f9e3a"/>
<path d="M50 50 L78 40 L82 60 L62 70Z" fill="#c33a2a"/>
<path d="M20 70 L35 60 L40 80 L25 90Z" fill="#7a7a70"/>
<circle cx="58" cy="48" r="4" fill="#222"/></g></svg>
<div class="t" style="left:908px;top:418.7px;font-size:11.2px;color:#262626">何文博-能建</div>
<div class="t" style="left:908px;top:435.2px;font-size:11.2px;color:#8e8e8e">(嘉宾)</div>
<svg class="a" style="left:1151px;top:424.2px" width="13" height="15" viewBox="0 0 13 15"><rect x="3.8" y="0" width="5.4" height="9.5" rx="2.7" fill="#c8cacd"/><path d="M1.3 6.5 C1.3 10 3.5 11.6 6.5 11.6 C9.5 11.6 11.7 10 11.7 6.5" stroke="#c8cacd" stroke-width="1.2" fill="none"/><path d="M6.5 11.6V14 M3.5 14.3H9.5" stroke="#c8cacd" stroke-width="1.2"/><path d="M0.5 14.5L12.5 1.5" stroke="#f26a5c" stroke-width="1.2"/></svg>
<svg class="a" style="left:1173px;top:427.2px" width="15" height="10" viewBox="0 0 15 10"><rect x="0" y="1" width="10" height="8" rx="1" fill="#c8cacd"/><path d="M10 4L14.5 1V9L10 6Z" fill="#c8cacd"/><path d="M0.3 9.8L10.5 0.3" stroke="#f26a5c" stroke-width="1.2"/></svg>
<svg class="a" style="left:870px;top:459.0px" width="29" height="29" viewBox="0 0 100 100"><defs><clipPath id="cr7"><circle cx="50" cy="50" r="50"/></clipPath></defs><g clip-path="url(#cr7)"><rect width="100" height="100" fill="#2a6699"/>
<ellipse cx="50" cy="45" rx="35" ry="30" fill="#4a8ac0"/>
<ellipse cx="30" cy="60" rx="15" ry="18" fill="#6aa7d4"/>
<ellipse cx="72" cy="62" rx="14" ry="16" fill="#3f7fb6"/>
<path d="M52 30 L56 55 L48 75 L54 55Z" fill="#e9f4fb"/>
<rect x="0" y="0" width="100" height="8" fill="#bfe0f2"/></g></svg>
<div class="t" style="left:908px;top:460.0px;font-size:11.2px;color:#262626">李洁</div>
<div class="t" style="left:908px;top:476.5px;font-size:11.2px;color:#8e8e8e">(嘉宾)</div>
<svg class="a" style="left:1151px;top:465.5px" width="13" height="15" viewBox="0 0 13 15"><rect x="3.8" y="0" width="5.4" height="9.5" rx="2.7" fill="#c8cacd"/><path d="M1.3 6.5 C1.3 10 3.5 11.6 6.5 11.6 C9.5 11.6 11.7 10 11.7 6.5" stroke="#c8cacd" stroke-width="1.2" fill="none"/><path d="M6.5 11.6V14 M3.5 14.3H9.5" stroke="#c8cacd" stroke-width="1.2"/><path d="M0.5 14.5L12.5 1.5" stroke="#f26a5c" stroke-width="1.2"/></svg>
<svg class="a" style="left:1173px;top:468.5px" width="15" height="10" viewBox="0 0 15 10"><rect x="0" y="1" width="10" height="8" rx="1" fill="#c8cacd"/><path d="M10 4L14.5 1V9L10 6Z" fill="#c8cacd"/><path d="M0.3 9.8L10.5 0.3" stroke="#f26a5c" stroke-width="1.2"/></svg>
<svg class="a" style="left:870px;top:500.3px" width="29" height="29" viewBox="0 0 100 100"><defs><clipPath id="cr8"><circle cx="50" cy="50" r="50"/></clipPath></defs><g clip-path="url(#cr8)"><rect width="100" height="100" fill="#2c2b2a"/>
<path d="M0 0 H100 V40 Q50 20 0 45Z" fill="#3d3d3e"/>
<path d="M48 38 L78 36 L80 58 L50 60Z" fill="#c9a12e"/>
<rect x="55" y="42" width="16" height="8" fill="#e8cc5a"/>
<path d="M55 60 L52 80 M72 58 L76 80" stroke="#1a1a1a" stroke-width="4"/>
<ellipse cx="28" cy="44" rx="6" ry="7" fill="#d8b49a"/>
<path d="M16 58 Q28 50 40 58 L42 74 L14 74Z" fill="#f4f4f4"/>
<path d="M18 74 L40 74 L44 90 L16 90Z" fill="#2a2a30"/>
<path d="M0 80 Q50 70 100 78 V100 H0Z" fill="#6f6f6c"/>
<ellipse cx="85" cy="58" rx="7" ry="9" fill="#d8d8d8"/></g></svg>
<div class="t" style="left:908px;top:501.3px;font-size:11.2px;color:#262626">申慧渊</div>
<div class="t" style="left:908px;top:517.8px;font-size:11.2px;color:#8e8e8e">(嘉宾)</div>
<svg class="a" style="left:1151px;top:506.8px" width="13" height="15" viewBox="0 0 13 15"><rect x="3.8" y="0" width="5.4" height="9.5" rx="2.7" fill="#c8cacd"/><path d="M1.3 6.5 C1.3 10 3.5 11.6 6.5 11.6 C9.5 11.6 11.7 10 11.7 6.5" stroke="#c8cacd" stroke-width="1.2" fill="none"/><path d="M6.5 11.6V14 M3.5 14.3H9.5" stroke="#c8cacd" stroke-width="1.2"/><path d="M0.5 14.5L12.5 1.5" stroke="#f26a5c" stroke-width="1.2"/></svg>
<svg class="a" style="left:1173px;top:509.8px" width="15" height="10" viewBox="0 0 15 10"><rect x="0" y="1" width="10" height="8" rx="1" fill="#c8cacd"/><path d="M10 4L14.5 1V9L10 6Z" fill="#c8cacd"/><path d="M0.3 9.8L10.5 0.3" stroke="#f26a5c" stroke-width="1.2"/></svg>
<svg class="a" style="left:870px;top:541.6px" width="29" height="29" viewBox="0 0 100 100"><defs><clipPath id="cr9"><circle cx="50" cy="50" r="50"/></clipPath></defs><g clip-path="url(#cr9)"><rect width="100" height="100" fill="#7d8278"/>
<rect x="0" y="0" width="100" height="30" fill="#b9c0b4"/>
<path d="M20 22 Q50 8 80 22 L80 30 L20 30Z" fill="#8a6e5e"/>
<rect x="5" y="30" width="20" height="40" fill="#9a9a92"/>
<ellipse cx="42" cy="40" rx="6" ry="7" fill="#d4a888"/>
<path d="M28 50 Q42 44 54 50 L56 85 L30 85Z" fill="#2a5ac0"/>
<path d="M38 58 L54 56 L52 70 L36 70Z" fill="#d02a2a"/>
<ellipse cx="76" cy="44" rx="6" ry="7" fill="#c9a088"/>
<path d="M62 54 Q76 48 90 54 L92 88 L64 88Z" fill="#222226"/>
<path d="M84 56 L96 60 L94 76 L84 72Z" fill="#c33030"/>
<path d="M12 62 L24 60 L26 95 L14 95Z" fill="#3a6ad0"/>
<rect x="0" y="88" width="100" height="12" fill="#8a857a"/></g></svg>
<div class="t" style="left:908px;top:542.6px;font-size:11.2px;color:#262626">宋文瀚</div>
<div class="t" style="left:908px;top:559.1px;font-size:11.2px;color:#8e8e8e">(嘉宾)</div>
<svg class="a" style="left:1151px;top:548.1px" width="13" height="15" viewBox="0 0 13 15"><rect x="3.8" y="0" width="5.4" height="9.5" rx="2.7" fill="#c8cacd"/><path d="M1.3 6.5 C1.3 10 3.5 11.6 6.5 11.6 C9.5 11.6 11.7 10 11.7 6.5" stroke="#c8cacd" stroke-width="1.2" fill="none"/><path d="M6.5 11.6V14 M3.5 14.3H9.5" stroke="#c8cacd" stroke-width="1.2"/><path d="M0.5 14.5L12.5 1.5" stroke="#f26a5c" stroke-width="1.2"/></svg>
<svg class="a" style="left:1173px;top:551.1px" width="15" height="10" viewBox="0 0 15 10"><rect x="0" y="1" width="10" height="8" rx="1" fill="#c8cacd"/><path d="M10 4L14.5 1V9L10 6Z" fill="#c8cacd"/><path d="M0.3 9.8L10.5 0.3" stroke="#f26a5c" stroke-width="1.2"/></svg>
<!-- list bottom -->
<div class="a" style="left:855px;top:563px;width:345px;height:52px;background:#fff;border-top:1px solid #e2e3e6"></div>
<div class="a" style="left:959px;top:581px;width:68px;height:19px;background:#0a6cff;border-radius:2px"></div>
<div class="t" style="left:981.5px;top:586px;font-size:11.2px;color:#fff">静音</div>
<div class="a" style="left:1042px;top:581px;width:67px;height:19px;background:#fff;border:1px solid #e0e1e4;border-radius:2px"></div>
<div class="t" style="left:1064px;top:586px;font-size:11.2px;color:#1c6fe8">举手</div>
<div class="a" style="left:988px;top:613px;width:212px;height:2px;background:#e6e7ea"></div>
<!-- speaking toast -->
<div class="a" style="left:1040px;top:476px;width:160px;height:33px;background:#3a3d42;border-radius:6px 0 0 6px;overflow:hidden">
  <div class="a" style="left:32px;top:4px;width:1px;height:25px;background:#2a2c30"></div>
  <div class="a" style="left:138px;top:6px;width:22px;height:22px;background:rgba(255,255,255,.12);transform:rotate(45deg);border-radius:3px"></div>
</div>
<svg class="a" style="left:1051px;top:484px" width="11" height="16" viewBox="0 0 11 16"><rect x="3" y="0" width="5" height="9.5" rx="2.5" fill="#9a9ca0"/><path d="M0.8 6.5C0.8 10 2.8 11.8 5.5 11.8C8.2 11.8 10.2 10 10.2 6.5" stroke="#9a9ca0" stroke-width="1.2" fill="none"/><path d="M5.5 11.8V14.5M3 15H8" stroke="#9a9ca0" stroke-width="1.2"/></svg>
<div class="t" style="left:1080px;top:487px;font-size:11.3px;color:#f2f2f2">正在讲话: 王莺;</div>
<!-- scrollbar -->
<div class="a" style="left:1192px;top:385px;width:8px;height:47px;border:1.5px solid #7a7a7a;border-radius:4px;background:#fff"></div>
<div class="a" style="left:1194.5px;top:401px;width:3px;height:29px;background:#f57a20;border-radius:2px"></div>

</body></html>
